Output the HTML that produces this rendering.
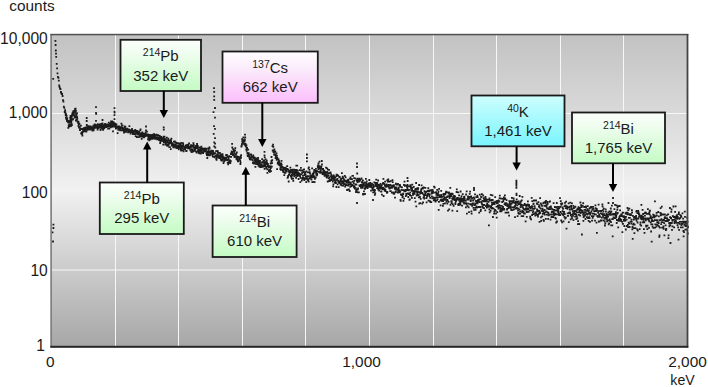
<!DOCTYPE html>
<html><head><meta charset="utf-8"><style>
html,body{margin:0;padding:0;background:#fff;}
body{width:708px;height:387px;overflow:hidden;position:relative;}
svg{position:absolute;left:0;top:0;display:block;}
text{font-family:"Liberation Sans", sans-serif;}
</style></head><body>
<svg width="708" height="387" viewBox="0 0 708 387">
<defs>
<linearGradient id="bg" x1="0" y1="0" x2="0" y2="1">
<stop offset="0" stop-color="#c2c2c2"/><stop offset="0.5" stop-color="#f1f1f1"/><stop offset="1" stop-color="#a7a7a7"/>
</linearGradient>
<linearGradient id="gg" x1="0" y1="0" x2="0" y2="1"><stop offset="0" stop-color="#fbfffb"/><stop offset="0.25" stop-color="#f0fdf0"/><stop offset="1" stop-color="#c4fbc4"/></linearGradient>
<linearGradient id="gp" x1="0" y1="0" x2="0" y2="1"><stop offset="0" stop-color="#fefcfe"/><stop offset="0.3" stop-color="#fbeefb"/><stop offset="1" stop-color="#fcbefb"/></linearGradient>
<linearGradient id="gc" x1="0" y1="0" x2="0" y2="1"><stop offset="0" stop-color="#cefefe"/><stop offset="1" stop-color="#78f4fd"/></linearGradient>
</defs>
<rect x="51" y="35" width="636" height="311" fill="url(#bg)"/>
<rect x="115" y="35" width="1" height="311" fill="#f7f7f7"/><rect x="178" y="35" width="1" height="311" fill="#f7f7f7"/><rect x="242" y="35" width="1" height="311" fill="#f7f7f7"/><rect x="305" y="35" width="1" height="311" fill="#f7f7f7"/><rect x="369" y="35" width="1" height="311" fill="#f7f7f7"/><rect x="433" y="35" width="1" height="311" fill="#f7f7f7"/><rect x="496" y="35" width="1" height="311" fill="#f7f7f7"/><rect x="560" y="35" width="1" height="311" fill="#f7f7f7"/><rect x="623" y="35" width="1" height="311" fill="#f7f7f7"/><rect x="51" y="113" width="636" height="1" fill="#f7f7f7"/><rect x="51" y="191" width="636" height="1" fill="#f7f7f7" opacity="0.3"/><rect x="51" y="269.5" width="636" height="1" fill="#f7f7f7"/>
<path d="M54.5 40h1.8v1.8h-1.8zM54.7 44.1h1.8v1.8h-1.8zM54.9 49.6h1.8v1.8h-1.8zM55.1 52.7h1.8v1.8h-1.8zM55.3 55.9h1.8v1.8h-1.8zM55.8 63h1.8v1.8h-1.8zM56.2 67.5h1.8v1.8h-1.8zM56.6 72.5h1.8v1.8h-1.8zM57 76h1.8v1.8h-1.8zM57.5 76.9h1.8v1.8h-1.8zM57.9 79.7h1.8v1.8h-1.8zM58.3 84.6h1.8v1.8h-1.8zM58.7 86.3h1.8v1.8h-1.8zM59.1 87.8h1.8v1.8h-1.8zM59.6 88.2h1.8v1.8h-1.8zM60 91.1h1.8v1.8h-1.8zM60.4 92.2h1.8v1.8h-1.8zM60.8 92.9h1.8v1.8h-1.8zM61.2 93.1h1.8v1.8h-1.8zM61.7 95.1h1.8v1.8h-1.8zM62.1 99.3h1.8v1.8h-1.8zM62.5 100.6h1.8v1.8h-1.8zM62.9 105.7h1.8v1.8h-1.8zM63.4 106.9h1.8v1.8h-1.8zM63.8 111.1h1.8v1.8h-1.8zM64.2 109.3h1.8v1.8h-1.8zM64.4 111.2h1.8v1.8h-1.8zM64.6 112.4h1.8v1.8h-1.8zM64.8 114.3h1.8v1.8h-1.8zM65 116.8h1.8v1.8h-1.8zM65.3 113.5h1.8v1.8h-1.8zM65.5 118.3h1.8v1.8h-1.8zM65.7 115h1.8v1.8h-1.8zM65.9 118.5h1.8v1.8h-1.8zM66.1 119.2h1.8v1.8h-1.8zM66.3 117.3h1.8v1.8h-1.8zM66.5 120.1h1.8v1.8h-1.8zM66.7 119.8h1.8v1.8h-1.8zM66.9 120.7h1.8v1.8h-1.8zM67.2 120.9h1.8v1.8h-1.8zM67.4 126.9h1.8v1.8h-1.8zM67.6 121.7h1.8v1.8h-1.8zM67.8 124.5h1.8v1.8h-1.8zM68 121.5h1.8v1.8h-1.8zM68.2 120.6h1.8v1.8h-1.8zM68.4 121.1h1.8v1.8h-1.8zM68.6 120h1.8v1.8h-1.8zM68.8 120.9h1.8v1.8h-1.8zM69.1 119.4h1.8v1.8h-1.8zM69.3 116.8h1.8v1.8h-1.8zM69.5 117.3h1.8v1.8h-1.8zM69.7 115h1.8v1.8h-1.8zM69.9 115.4h1.8v1.8h-1.8zM70.1 118.1h1.8v1.8h-1.8zM70.3 118.4h1.8v1.8h-1.8zM70.5 116.7h1.8v1.8h-1.8zM70.7 116.4h1.8v1.8h-1.8zM71 114.4h1.8v1.8h-1.8zM71.2 114.8h1.8v1.8h-1.8zM71.4 112.9h1.8v1.8h-1.8zM71.6 112.3h1.8v1.8h-1.8zM71.8 113.1h1.8v1.8h-1.8zM72 114.4h1.8v1.8h-1.8zM72.2 111.3h1.8v1.8h-1.8zM72.4 111.6h1.8v1.8h-1.8zM72.6 113h1.8v1.8h-1.8zM72.9 112.7h1.8v1.8h-1.8zM73.1 110.6h1.8v1.8h-1.8zM73.3 111.3h1.8v1.8h-1.8zM73.5 110.5h1.8v1.8h-1.8zM73.7 110.1h1.8v1.8h-1.8zM73.9 110.5h1.8v1.8h-1.8zM74.1 108.2h1.8v1.8h-1.8zM74.3 108.9h1.8v1.8h-1.8zM74.5 108h1.8v1.8h-1.8zM74.7 107.8h1.8v1.8h-1.8zM75 109.9h1.8v1.8h-1.8zM75.2 112.6h1.8v1.8h-1.8zM75.4 114.1h1.8v1.8h-1.8zM75.6 114h1.8v1.8h-1.8zM75.8 116h1.8v1.8h-1.8zM76 118.4h1.8v1.8h-1.8zM76.2 116.2h1.8v1.8h-1.8zM76.4 117.8h1.8v1.8h-1.8zM76.6 120.6h1.8v1.8h-1.8zM76.9 120.6h1.8v1.8h-1.8zM77.1 120.9h1.8v1.8h-1.8zM77.3 122.2h1.8v1.8h-1.8zM77.5 124.9h1.8v1.8h-1.8zM77.7 121.3h1.8v1.8h-1.8zM77.9 123.4h1.8v1.8h-1.8zM78.1 126.6h1.8v1.8h-1.8zM78.3 123.5h1.8v1.8h-1.8zM78.5 123h1.8v1.8h-1.8zM78.8 125.9h1.8v1.8h-1.8zM79 129.2h1.8v1.8h-1.8zM79.2 128.6h1.8v1.8h-1.8zM79.4 128.3h1.8v1.8h-1.8zM79.6 127.7h1.8v1.8h-1.8zM79.8 127.9h1.8v1.8h-1.8zM80 124.8h1.8v1.8h-1.8zM80.2 132.5h1.8v1.8h-1.8zM80.4 128.3h1.8v1.8h-1.8zM80.7 132.6h1.8v1.8h-1.8zM80.9 131.4h1.8v1.8h-1.8zM81.1 133.1h1.8v1.8h-1.8zM81.3 132.6h1.8v1.8h-1.8zM81.5 134.7h1.8v1.8h-1.8zM81.7 131.1h1.8v1.8h-1.8zM81.9 127.9h1.8v1.8h-1.8zM82.1 130.7h1.8v1.8h-1.8zM82.3 129.4h1.8v1.8h-1.8zM82.6 129h1.8v1.8h-1.8zM82.8 127.2h1.8v1.8h-1.8zM83 130.3h1.8v1.8h-1.8zM83.2 129.5h1.8v1.8h-1.8zM83.4 129.5h1.8v1.8h-1.8zM83.6 130.5h1.8v1.8h-1.8zM83.8 127.3h1.8v1.8h-1.8zM84 127.7h1.8v1.8h-1.8zM84.2 126.7h1.8v1.8h-1.8zM84.5 129.5h1.8v1.8h-1.8zM84.7 130.4h1.8v1.8h-1.8zM84.9 128.2h1.8v1.8h-1.8zM85.1 127.5h1.8v1.8h-1.8zM85.3 127.4h1.8v1.8h-1.8zM85.5 130.6h1.8v1.8h-1.8zM85.7 126.3h1.8v1.8h-1.8zM85.9 124.1h1.8v1.8h-1.8zM86.1 127.4h1.8v1.8h-1.8zM86.4 127.3h1.8v1.8h-1.8zM86.6 129h1.8v1.8h-1.8zM86.8 127h1.8v1.8h-1.8zM87 128.5h1.8v1.8h-1.8zM87.2 125.5h1.8v1.8h-1.8zM87.4 126.8h1.8v1.8h-1.8zM87.6 125.5h1.8v1.8h-1.8zM87.8 125.3h1.8v1.8h-1.8zM88 128.4h1.8v1.8h-1.8zM88.2 127.2h1.8v1.8h-1.8zM88.5 125.7h1.8v1.8h-1.8zM88.7 127.7h1.8v1.8h-1.8zM88.9 128.6h1.8v1.8h-1.8zM89.1 125.7h1.8v1.8h-1.8zM89.3 125.8h1.8v1.8h-1.8zM89.5 127.4h1.8v1.8h-1.8zM89.7 125.5h1.8v1.8h-1.8zM89.9 126.8h1.8v1.8h-1.8zM90.1 127.1h1.8v1.8h-1.8zM90.4 126.3h1.8v1.8h-1.8zM90.6 126.8h1.8v1.8h-1.8zM90.8 128.6h1.8v1.8h-1.8zM91 128.5h1.8v1.8h-1.8zM91.2 126.2h1.8v1.8h-1.8zM91.4 126.9h1.8v1.8h-1.8zM91.6 129.6h1.8v1.8h-1.8zM91.8 128.4h1.8v1.8h-1.8zM92 128.8h1.8v1.8h-1.8zM92.3 127.8h1.8v1.8h-1.8zM92.5 124.8h1.8v1.8h-1.8zM92.7 129.4h1.8v1.8h-1.8zM92.9 128h1.8v1.8h-1.8zM93.1 125.9h1.8v1.8h-1.8zM93.3 124.5h1.8v1.8h-1.8zM93.5 124.4h1.8v1.8h-1.8zM93.7 124.5h1.8v1.8h-1.8zM93.9 123.4h1.8v1.8h-1.8zM94.2 126.6h1.8v1.8h-1.8zM94.4 127h1.8v1.8h-1.8zM94.6 125.8h1.8v1.8h-1.8zM94.8 124.1h1.8v1.8h-1.8zM95 126.5h1.8v1.8h-1.8zM95.2 125.1h1.8v1.8h-1.8zM95.4 126.6h1.8v1.8h-1.8zM95.6 125.2h1.8v1.8h-1.8zM95.8 126.6h1.8v1.8h-1.8zM96.1 124.8h1.8v1.8h-1.8zM96.3 124.5h1.8v1.8h-1.8zM96.5 126.8h1.8v1.8h-1.8zM96.7 128.6h1.8v1.8h-1.8zM96.9 123.3h1.8v1.8h-1.8zM97.1 127.1h1.8v1.8h-1.8zM97.3 127.1h1.8v1.8h-1.8zM97.5 125.8h1.8v1.8h-1.8zM97.7 127.3h1.8v1.8h-1.8zM98 126h1.8v1.8h-1.8zM98.2 123.9h1.8v1.8h-1.8zM98.4 126.4h1.8v1.8h-1.8zM98.6 125.5h1.8v1.8h-1.8zM98.8 124.6h1.8v1.8h-1.8zM99 126h1.8v1.8h-1.8zM99.2 123.2h1.8v1.8h-1.8zM99.4 125h1.8v1.8h-1.8zM99.6 129.1h1.8v1.8h-1.8zM99.9 125.3h1.8v1.8h-1.8zM100.1 124.5h1.8v1.8h-1.8zM100.3 126.8h1.8v1.8h-1.8zM100.5 127.8h1.8v1.8h-1.8zM100.7 123.9h1.8v1.8h-1.8zM100.9 123.1h1.8v1.8h-1.8zM101.1 125.1h1.8v1.8h-1.8zM101.3 125.2h1.8v1.8h-1.8zM101.5 127.4h1.8v1.8h-1.8zM101.7 126h1.8v1.8h-1.8zM102 125.6h1.8v1.8h-1.8zM102.2 128.9h1.8v1.8h-1.8zM102.4 124.2h1.8v1.8h-1.8zM102.6 126h1.8v1.8h-1.8zM102.8 124.4h1.8v1.8h-1.8zM103 125.9h1.8v1.8h-1.8zM103.2 127.5h1.8v1.8h-1.8zM103.4 124.2h1.8v1.8h-1.8zM103.6 126.6h1.8v1.8h-1.8zM103.9 125.8h1.8v1.8h-1.8zM104.1 122.9h1.8v1.8h-1.8zM104.3 125.9h1.8v1.8h-1.8zM104.5 125.7h1.8v1.8h-1.8zM104.7 123.9h1.8v1.8h-1.8zM104.9 126h1.8v1.8h-1.8zM105.1 124.2h1.8v1.8h-1.8zM105.3 126.2h1.8v1.8h-1.8zM105.5 123.4h1.8v1.8h-1.8zM105.8 124.6h1.8v1.8h-1.8zM106 125.8h1.8v1.8h-1.8zM106.2 125.2h1.8v1.8h-1.8zM106.4 123.5h1.8v1.8h-1.8zM106.6 125.8h1.8v1.8h-1.8zM106.8 124.4h1.8v1.8h-1.8zM107 124.1h1.8v1.8h-1.8zM107.2 127.8h1.8v1.8h-1.8zM107.4 125.2h1.8v1.8h-1.8zM107.7 124.1h1.8v1.8h-1.8zM107.9 121.8h1.8v1.8h-1.8zM108.1 124.7h1.8v1.8h-1.8zM108.3 127.6h1.8v1.8h-1.8zM108.5 123.9h1.8v1.8h-1.8zM108.7 125.1h1.8v1.8h-1.8zM108.9 122.9h1.8v1.8h-1.8zM109.1 125.2h1.8v1.8h-1.8zM109.3 123.8h1.8v1.8h-1.8zM109.6 126.4h1.8v1.8h-1.8zM109.8 125.8h1.8v1.8h-1.8zM110 122.8h1.8v1.8h-1.8zM110.2 120.9h1.8v1.8h-1.8zM110.4 123.7h1.8v1.8h-1.8zM110.6 124.8h1.8v1.8h-1.8zM110.8 124.8h1.8v1.8h-1.8zM111 126h1.8v1.8h-1.8zM111.2 120.6h1.8v1.8h-1.8zM111.5 124.8h1.8v1.8h-1.8zM111.7 123.3h1.8v1.8h-1.8zM111.9 122.5h1.8v1.8h-1.8zM112.1 125.5h1.8v1.8h-1.8zM112.3 123.3h1.8v1.8h-1.8zM112.5 121.3h1.8v1.8h-1.8zM112.7 124.3h1.8v1.8h-1.8zM112.9 124.7h1.8v1.8h-1.8zM113.1 125.8h1.8v1.8h-1.8zM113.4 124.5h1.8v1.8h-1.8zM113.6 122.3h1.8v1.8h-1.8zM113.8 125.5h1.8v1.8h-1.8zM114 123.8h1.8v1.8h-1.8zM114.2 124.2h1.8v1.8h-1.8zM114.4 122.9h1.8v1.8h-1.8zM114.6 125h1.8v1.8h-1.8zM114.8 125.9h1.8v1.8h-1.8zM115 127.6h1.8v1.8h-1.8zM115.2 125.9h1.8v1.8h-1.8zM115.5 123.4h1.8v1.8h-1.8zM115.7 126.1h1.8v1.8h-1.8zM115.9 127h1.8v1.8h-1.8zM116.1 125.4h1.8v1.8h-1.8zM116.3 126h1.8v1.8h-1.8zM116.5 126.4h1.8v1.8h-1.8zM116.7 132.2h1.8v1.8h-1.8zM116.9 125.6h1.8v1.8h-1.8zM117.1 125.9h1.8v1.8h-1.8zM117.4 129h1.8v1.8h-1.8zM117.6 127.3h1.8v1.8h-1.8zM117.8 127.3h1.8v1.8h-1.8zM118 126.4h1.8v1.8h-1.8zM118.2 127.9h1.8v1.8h-1.8zM118.4 125.5h1.8v1.8h-1.8zM118.6 126.3h1.8v1.8h-1.8zM118.8 127.2h1.8v1.8h-1.8zM119 128.4h1.8v1.8h-1.8zM119.3 129.4h1.8v1.8h-1.8zM119.5 126.7h1.8v1.8h-1.8zM119.7 126.6h1.8v1.8h-1.8zM119.9 126.5h1.8v1.8h-1.8zM120.1 126.6h1.8v1.8h-1.8zM120.3 126.2h1.8v1.8h-1.8zM120.5 122.7h1.8v1.8h-1.8zM120.7 127.4h1.8v1.8h-1.8zM120.9 129.4h1.8v1.8h-1.8zM121.2 124.5h1.8v1.8h-1.8zM121.4 126.9h1.8v1.8h-1.8zM121.6 124.7h1.8v1.8h-1.8zM121.8 128.4h1.8v1.8h-1.8zM122 128h1.8v1.8h-1.8zM122.2 127.9h1.8v1.8h-1.8zM122.4 127.4h1.8v1.8h-1.8zM122.6 129.3h1.8v1.8h-1.8zM122.8 129.7h1.8v1.8h-1.8zM123.1 131.8h1.8v1.8h-1.8zM123.3 131.1h1.8v1.8h-1.8zM123.5 129.3h1.8v1.8h-1.8zM123.7 126.5h1.8v1.8h-1.8zM123.9 125.4h1.8v1.8h-1.8zM124.1 126h1.8v1.8h-1.8zM124.3 128.1h1.8v1.8h-1.8zM124.5 126h1.8v1.8h-1.8zM124.7 130.6h1.8v1.8h-1.8zM125 128.2h1.8v1.8h-1.8zM125.2 131h1.8v1.8h-1.8zM125.4 129.1h1.8v1.8h-1.8zM125.6 129h1.8v1.8h-1.8zM125.8 128.5h1.8v1.8h-1.8zM126 128.2h1.8v1.8h-1.8zM126.2 128.8h1.8v1.8h-1.8zM126.4 127.8h1.8v1.8h-1.8zM126.6 128.8h1.8v1.8h-1.8zM126.9 128.9h1.8v1.8h-1.8zM127.1 131.4h1.8v1.8h-1.8zM127.3 130h1.8v1.8h-1.8zM127.5 129h1.8v1.8h-1.8zM127.7 128.5h1.8v1.8h-1.8zM127.9 128.5h1.8v1.8h-1.8zM128.1 129.8h1.8v1.8h-1.8zM128.3 130.2h1.8v1.8h-1.8zM128.5 125.3h1.8v1.8h-1.8zM128.7 130.9h1.8v1.8h-1.8zM129 129.9h1.8v1.8h-1.8zM129.2 130.8h1.8v1.8h-1.8zM129.4 129.3h1.8v1.8h-1.8zM129.6 132.8h1.8v1.8h-1.8zM129.8 131.3h1.8v1.8h-1.8zM130 131.5h1.8v1.8h-1.8zM130.2 130.1h1.8v1.8h-1.8zM130.4 130h1.8v1.8h-1.8zM130.6 131.3h1.8v1.8h-1.8zM130.9 129.8h1.8v1.8h-1.8zM131.1 128h1.8v1.8h-1.8zM131.3 129.7h1.8v1.8h-1.8zM131.5 129.7h1.8v1.8h-1.8zM131.7 129.9h1.8v1.8h-1.8zM131.9 133.1h1.8v1.8h-1.8zM132.1 131.6h1.8v1.8h-1.8zM132.3 131.6h1.8v1.8h-1.8zM132.5 132.2h1.8v1.8h-1.8zM132.8 131.5h1.8v1.8h-1.8zM133 130.6h1.8v1.8h-1.8zM133.2 133h1.8v1.8h-1.8zM133.4 130.9h1.8v1.8h-1.8zM133.6 130h1.8v1.8h-1.8zM133.8 129.7h1.8v1.8h-1.8zM134 133.1h1.8v1.8h-1.8zM134.2 132.9h1.8v1.8h-1.8zM134.4 129h1.8v1.8h-1.8zM134.7 135.2h1.8v1.8h-1.8zM134.9 130.8h1.8v1.8h-1.8zM135.1 132.9h1.8v1.8h-1.8zM135.3 132.3h1.8v1.8h-1.8zM135.5 130h1.8v1.8h-1.8zM135.7 132.5h1.8v1.8h-1.8zM135.9 136.1h1.8v1.8h-1.8zM136.1 132.4h1.8v1.8h-1.8zM136.3 131.1h1.8v1.8h-1.8zM136.6 130.1h1.8v1.8h-1.8zM136.8 132h1.8v1.8h-1.8zM137 133.4h1.8v1.8h-1.8zM137.2 133.6h1.8v1.8h-1.8zM137.4 131.8h1.8v1.8h-1.8zM137.6 132.6h1.8v1.8h-1.8zM137.8 136.2h1.8v1.8h-1.8zM138 132.4h1.8v1.8h-1.8zM138.2 130.9h1.8v1.8h-1.8zM138.5 132.7h1.8v1.8h-1.8zM138.7 135.8h1.8v1.8h-1.8zM138.9 135.5h1.8v1.8h-1.8zM139.1 134.5h1.8v1.8h-1.8zM139.3 129.4h1.8v1.8h-1.8zM139.5 132.6h1.8v1.8h-1.8zM139.7 128.4h1.8v1.8h-1.8zM139.9 135.8h1.8v1.8h-1.8zM140.1 133.5h1.8v1.8h-1.8zM140.4 135.2h1.8v1.8h-1.8zM140.6 132.3h1.8v1.8h-1.8zM140.8 138h1.8v1.8h-1.8zM141 134.2h1.8v1.8h-1.8zM141.2 133.9h1.8v1.8h-1.8zM141.4 131.4h1.8v1.8h-1.8zM141.6 135.7h1.8v1.8h-1.8zM141.8 133.1h1.8v1.8h-1.8zM142 134.5h1.8v1.8h-1.8zM142.2 132.6h1.8v1.8h-1.8zM142.5 136.2h1.8v1.8h-1.8zM142.7 133.1h1.8v1.8h-1.8zM142.9 133.7h1.8v1.8h-1.8zM143.1 136.4h1.8v1.8h-1.8zM143.3 132.9h1.8v1.8h-1.8zM143.5 135.8h1.8v1.8h-1.8zM143.7 134.9h1.8v1.8h-1.8zM143.9 134.2h1.8v1.8h-1.8zM144.1 135.1h1.8v1.8h-1.8zM144.4 134.9h1.8v1.8h-1.8zM144.6 131.8h1.8v1.8h-1.8zM144.8 134.1h1.8v1.8h-1.8zM145 135h1.8v1.8h-1.8zM145.2 133.3h1.8v1.8h-1.8zM145.4 134.4h1.8v1.8h-1.8zM145.6 134.9h1.8v1.8h-1.8zM145.8 134.9h1.8v1.8h-1.8zM146 130.7h1.8v1.8h-1.8zM146.3 133.8h1.8v1.8h-1.8zM146.5 134.6h1.8v1.8h-1.8zM146.7 133.5h1.8v1.8h-1.8zM146.9 134.5h1.8v1.8h-1.8zM147.1 138.4h1.8v1.8h-1.8zM147.3 133.7h1.8v1.8h-1.8zM147.5 136.4h1.8v1.8h-1.8zM147.7 137.6h1.8v1.8h-1.8zM147.9 135.4h1.8v1.8h-1.8zM148.2 136.6h1.8v1.8h-1.8zM148.4 139.5h1.8v1.8h-1.8zM148.6 137.1h1.8v1.8h-1.8zM148.8 138.4h1.8v1.8h-1.8zM149 134h1.8v1.8h-1.8zM149.2 137.1h1.8v1.8h-1.8zM149.4 135.9h1.8v1.8h-1.8zM149.6 138.5h1.8v1.8h-1.8zM149.8 134.3h1.8v1.8h-1.8zM150.1 136.6h1.8v1.8h-1.8zM150.3 134.7h1.8v1.8h-1.8zM150.5 135.9h1.8v1.8h-1.8zM150.7 137.8h1.8v1.8h-1.8zM150.9 137.6h1.8v1.8h-1.8zM151.1 137.2h1.8v1.8h-1.8zM151.3 135.5h1.8v1.8h-1.8zM151.5 134h1.8v1.8h-1.8zM151.7 137.9h1.8v1.8h-1.8zM152 137.3h1.8v1.8h-1.8zM152.2 135.4h1.8v1.8h-1.8zM152.4 133.7h1.8v1.8h-1.8zM152.6 137.5h1.8v1.8h-1.8zM152.8 134h1.8v1.8h-1.8zM153 133.2h1.8v1.8h-1.8zM153.2 137.2h1.8v1.8h-1.8zM153.4 133.2h1.8v1.8h-1.8zM153.6 136.5h1.8v1.8h-1.8zM153.9 136.3h1.8v1.8h-1.8zM154.1 135.1h1.8v1.8h-1.8zM154.3 137.9h1.8v1.8h-1.8zM154.5 134.3h1.8v1.8h-1.8zM154.7 136.7h1.8v1.8h-1.8zM154.9 137.3h1.8v1.8h-1.8zM155.1 136.4h1.8v1.8h-1.8zM155.3 137.1h1.8v1.8h-1.8zM155.5 137h1.8v1.8h-1.8zM155.7 133.7h1.8v1.8h-1.8zM156 137h1.8v1.8h-1.8zM156.2 138.5h1.8v1.8h-1.8zM156.4 134.9h1.8v1.8h-1.8zM156.6 137.8h1.8v1.8h-1.8zM156.8 137.1h1.8v1.8h-1.8zM157 138.3h1.8v1.8h-1.8zM157.2 137.7h1.8v1.8h-1.8zM157.4 134.3h1.8v1.8h-1.8zM157.6 136.6h1.8v1.8h-1.8zM157.9 137h1.8v1.8h-1.8zM158.1 139.2h1.8v1.8h-1.8zM158.3 137.1h1.8v1.8h-1.8zM158.5 136.8h1.8v1.8h-1.8zM158.7 136.2h1.8v1.8h-1.8zM158.9 135.1h1.8v1.8h-1.8zM159.1 137.9h1.8v1.8h-1.8zM159.3 142.3h1.8v1.8h-1.8zM159.5 140.7h1.8v1.8h-1.8zM159.8 139.3h1.8v1.8h-1.8zM160 137.4h1.8v1.8h-1.8zM160.2 136h1.8v1.8h-1.8zM160.4 139h1.8v1.8h-1.8zM160.6 136.6h1.8v1.8h-1.8zM160.8 139.9h1.8v1.8h-1.8zM161 137.7h1.8v1.8h-1.8zM161.2 139.2h1.8v1.8h-1.8zM161.4 138.7h1.8v1.8h-1.8zM161.7 139.6h1.8v1.8h-1.8zM161.9 137.3h1.8v1.8h-1.8zM162.1 137.3h1.8v1.8h-1.8zM162.3 143.7h1.8v1.8h-1.8zM162.5 140.2h1.8v1.8h-1.8zM162.7 138.8h1.8v1.8h-1.8zM162.9 141.2h1.8v1.8h-1.8zM163.1 139.7h1.8v1.8h-1.8zM163.3 141.5h1.8v1.8h-1.8zM163.6 135.7h1.8v1.8h-1.8zM163.8 137.8h1.8v1.8h-1.8zM164 140.8h1.8v1.8h-1.8zM164.2 140.1h1.8v1.8h-1.8zM164.4 143.7h1.8v1.8h-1.8zM164.6 138.4h1.8v1.8h-1.8zM164.8 142h1.8v1.8h-1.8zM165 138.7h1.8v1.8h-1.8zM165.2 139.8h1.8v1.8h-1.8zM165.5 140.3h1.8v1.8h-1.8zM165.7 140.9h1.8v1.8h-1.8zM165.9 136.7h1.8v1.8h-1.8zM166.1 144.6h1.8v1.8h-1.8zM166.3 143.3h1.8v1.8h-1.8zM166.5 140h1.8v1.8h-1.8zM166.7 141.2h1.8v1.8h-1.8zM166.9 144.9h1.8v1.8h-1.8zM167.1 139.2h1.8v1.8h-1.8zM167.4 137.8h1.8v1.8h-1.8zM167.6 144.1h1.8v1.8h-1.8zM167.8 143.4h1.8v1.8h-1.8zM168 142h1.8v1.8h-1.8zM168.2 139.5h1.8v1.8h-1.8zM168.4 146.2h1.8v1.8h-1.8zM168.6 142.4h1.8v1.8h-1.8zM168.8 140.2h1.8v1.8h-1.8zM169 146.2h1.8v1.8h-1.8zM169.2 142.5h1.8v1.8h-1.8zM169.5 140.9h1.8v1.8h-1.8zM169.7 142.4h1.8v1.8h-1.8zM169.9 148.3h1.8v1.8h-1.8zM170.1 139.1h1.8v1.8h-1.8zM170.3 140.9h1.8v1.8h-1.8zM170.5 137.8h1.8v1.8h-1.8zM170.7 142.2h1.8v1.8h-1.8zM170.9 144.6h1.8v1.8h-1.8zM171.1 142.6h1.8v1.8h-1.8zM171.4 142.2h1.8v1.8h-1.8zM171.6 144.5h1.8v1.8h-1.8zM171.8 143.3h1.8v1.8h-1.8zM172 143.7h1.8v1.8h-1.8zM172.2 143.9h1.8v1.8h-1.8zM172.4 146.4h1.8v1.8h-1.8zM172.6 143.2h1.8v1.8h-1.8zM172.8 145.4h1.8v1.8h-1.8zM173 140.7h1.8v1.8h-1.8zM173.3 145.3h1.8v1.8h-1.8zM173.5 144.6h1.8v1.8h-1.8zM173.7 145.6h1.8v1.8h-1.8zM173.9 140.4h1.8v1.8h-1.8zM174.1 143.9h1.8v1.8h-1.8zM174.3 141.6h1.8v1.8h-1.8zM174.5 146.6h1.8v1.8h-1.8zM174.7 144.4h1.8v1.8h-1.8zM174.9 144.3h1.8v1.8h-1.8zM175.2 141.7h1.8v1.8h-1.8zM175.4 142.7h1.8v1.8h-1.8zM175.6 146.5h1.8v1.8h-1.8zM175.8 145.2h1.8v1.8h-1.8zM176 146.9h1.8v1.8h-1.8zM176.2 147.2h1.8v1.8h-1.8zM176.4 145.5h1.8v1.8h-1.8zM176.6 142.2h1.8v1.8h-1.8zM176.8 146.2h1.8v1.8h-1.8zM177.1 144.4h1.8v1.8h-1.8zM177.3 145.3h1.8v1.8h-1.8zM177.5 146.3h1.8v1.8h-1.8zM177.7 142.3h1.8v1.8h-1.8zM177.9 148.5h1.8v1.8h-1.8zM178.1 146.6h1.8v1.8h-1.8zM178.3 145.1h1.8v1.8h-1.8zM178.5 143.5h1.8v1.8h-1.8zM178.7 143.7h1.8v1.8h-1.8zM179 142.8h1.8v1.8h-1.8zM179.2 145.1h1.8v1.8h-1.8zM179.4 146.6h1.8v1.8h-1.8zM179.6 144.9h1.8v1.8h-1.8zM179.8 143.8h1.8v1.8h-1.8zM180 148.6h1.8v1.8h-1.8zM180.2 149.6h1.8v1.8h-1.8zM180.4 141.9h1.8v1.8h-1.8zM180.6 145.9h1.8v1.8h-1.8zM180.9 144.7h1.8v1.8h-1.8zM181.1 145.5h1.8v1.8h-1.8zM181.3 147.5h1.8v1.8h-1.8zM181.5 145.8h1.8v1.8h-1.8zM181.7 149.5h1.8v1.8h-1.8zM181.9 145h1.8v1.8h-1.8zM182.1 142.3h1.8v1.8h-1.8zM182.3 143.6h1.8v1.8h-1.8zM182.5 145.6h1.8v1.8h-1.8zM182.7 150.4h1.8v1.8h-1.8zM183 148.5h1.8v1.8h-1.8zM183.2 145.8h1.8v1.8h-1.8zM183.4 147.1h1.8v1.8h-1.8zM183.6 147.3h1.8v1.8h-1.8zM183.8 146h1.8v1.8h-1.8zM184 148.5h1.8v1.8h-1.8zM184.2 148.1h1.8v1.8h-1.8zM184.4 146.4h1.8v1.8h-1.8zM184.6 147.1h1.8v1.8h-1.8zM184.9 144.4h1.8v1.8h-1.8zM185.1 145h1.8v1.8h-1.8zM185.3 150.3h1.8v1.8h-1.8zM185.5 146.4h1.8v1.8h-1.8zM185.7 149.9h1.8v1.8h-1.8zM185.9 146.4h1.8v1.8h-1.8zM186.1 145.1h1.8v1.8h-1.8zM186.3 144.1h1.8v1.8h-1.8zM186.5 146.1h1.8v1.8h-1.8zM186.8 147.5h1.8v1.8h-1.8zM187 147.1h1.8v1.8h-1.8zM187.2 145.5h1.8v1.8h-1.8zM187.4 144.4h1.8v1.8h-1.8zM187.6 143.5h1.8v1.8h-1.8zM187.8 146.8h1.8v1.8h-1.8zM188 146.4h1.8v1.8h-1.8zM188.2 142.5h1.8v1.8h-1.8zM188.4 146.2h1.8v1.8h-1.8zM188.7 147.7h1.8v1.8h-1.8zM188.9 147.8h1.8v1.8h-1.8zM189.1 147.3h1.8v1.8h-1.8zM189.3 145.8h1.8v1.8h-1.8zM189.5 149.3h1.8v1.8h-1.8zM189.7 149.6h1.8v1.8h-1.8zM189.9 146.1h1.8v1.8h-1.8zM190.1 144.3h1.8v1.8h-1.8zM190.3 144.4h1.8v1.8h-1.8zM190.6 150.7h1.8v1.8h-1.8zM190.8 151.1h1.8v1.8h-1.8zM191 148.3h1.8v1.8h-1.8zM191.2 145.8h1.8v1.8h-1.8zM191.4 144.5h1.8v1.8h-1.8zM191.6 149.4h1.8v1.8h-1.8zM191.8 149.1h1.8v1.8h-1.8zM192 150.8h1.8v1.8h-1.8zM192.2 145.3h1.8v1.8h-1.8zM192.5 142.3h1.8v1.8h-1.8zM192.7 146.3h1.8v1.8h-1.8zM192.9 144h1.8v1.8h-1.8zM193.1 146.7h1.8v1.8h-1.8zM193.3 147.2h1.8v1.8h-1.8zM193.5 150h1.8v1.8h-1.8zM193.7 147.1h1.8v1.8h-1.8zM193.9 148.6h1.8v1.8h-1.8zM194.1 149.4h1.8v1.8h-1.8zM194.4 147.1h1.8v1.8h-1.8zM194.6 145.5h1.8v1.8h-1.8zM194.8 147.7h1.8v1.8h-1.8zM195 145.1h1.8v1.8h-1.8zM195.2 150.8h1.8v1.8h-1.8zM195.4 145h1.8v1.8h-1.8zM195.6 145.6h1.8v1.8h-1.8zM195.8 151.7h1.8v1.8h-1.8zM196 146h1.8v1.8h-1.8zM196.2 143.1h1.8v1.8h-1.8zM196.5 147.1h1.8v1.8h-1.8zM196.7 150.5h1.8v1.8h-1.8zM196.9 144.9h1.8v1.8h-1.8zM197.1 150.3h1.8v1.8h-1.8zM197.3 148.7h1.8v1.8h-1.8zM197.5 149.9h1.8v1.8h-1.8zM197.7 146.8h1.8v1.8h-1.8zM197.9 152h1.8v1.8h-1.8zM198.1 150.2h1.8v1.8h-1.8zM198.4 148.9h1.8v1.8h-1.8zM198.6 152.5h1.8v1.8h-1.8zM198.8 152.2h1.8v1.8h-1.8zM199 146.8h1.8v1.8h-1.8zM199.2 146.6h1.8v1.8h-1.8zM199.4 147.5h1.8v1.8h-1.8zM199.6 149.4h1.8v1.8h-1.8zM199.8 150.5h1.8v1.8h-1.8zM200 152.6h1.8v1.8h-1.8zM200.3 147.9h1.8v1.8h-1.8zM200.5 145.8h1.8v1.8h-1.8zM200.7 149.4h1.8v1.8h-1.8zM200.9 148h1.8v1.8h-1.8zM201.1 151.5h1.8v1.8h-1.8zM201.3 149h1.8v1.8h-1.8zM201.5 147.4h1.8v1.8h-1.8zM201.7 148.5h1.8v1.8h-1.8zM201.9 151.3h1.8v1.8h-1.8zM202.2 152.2h1.8v1.8h-1.8zM202.4 148.9h1.8v1.8h-1.8zM202.6 147.7h1.8v1.8h-1.8zM202.8 148.7h1.8v1.8h-1.8zM203 147.9h1.8v1.8h-1.8zM203.2 150.2h1.8v1.8h-1.8zM203.4 150.7h1.8v1.8h-1.8zM203.6 148.5h1.8v1.8h-1.8zM203.8 147.9h1.8v1.8h-1.8zM204.1 150.3h1.8v1.8h-1.8zM204.3 148.6h1.8v1.8h-1.8zM204.5 147.5h1.8v1.8h-1.8zM204.7 148h1.8v1.8h-1.8zM204.9 149.7h1.8v1.8h-1.8zM205.1 149.5h1.8v1.8h-1.8zM205.3 148.1h1.8v1.8h-1.8zM205.5 152.5h1.8v1.8h-1.8zM205.7 151.7h1.8v1.8h-1.8zM206 154.1h1.8v1.8h-1.8zM206.2 151.5h1.8v1.8h-1.8zM206.4 157.1h1.8v1.8h-1.8zM206.6 151.1h1.8v1.8h-1.8zM206.8 153.1h1.8v1.8h-1.8zM207 154.5h1.8v1.8h-1.8zM207.2 147.5h1.8v1.8h-1.8zM207.4 149.5h1.8v1.8h-1.8zM207.6 152h1.8v1.8h-1.8zM207.9 150.1h1.8v1.8h-1.8zM208.1 153.5h1.8v1.8h-1.8zM208.3 147.6h1.8v1.8h-1.8zM208.5 146.4h1.8v1.8h-1.8zM208.7 147.6h1.8v1.8h-1.8zM208.9 154.4h1.8v1.8h-1.8zM209.1 153.7h1.8v1.8h-1.8zM209.3 151.1h1.8v1.8h-1.8zM209.5 153.7h1.8v1.8h-1.8zM209.7 152h1.8v1.8h-1.8zM210 150.4h1.8v1.8h-1.8zM210.2 150.2h1.8v1.8h-1.8zM210.4 150.6h1.8v1.8h-1.8zM210.6 152.7h1.8v1.8h-1.8zM210.8 149.8h1.8v1.8h-1.8zM211 152.7h1.8v1.8h-1.8zM211.2 149.9h1.8v1.8h-1.8zM211.4 152.3h1.8v1.8h-1.8zM211.6 154.4h1.8v1.8h-1.8zM211.9 155.8h1.8v1.8h-1.8zM212.1 150.1h1.8v1.8h-1.8zM212.3 153.1h1.8v1.8h-1.8zM212.5 151.4h1.8v1.8h-1.8zM212.7 152.4h1.8v1.8h-1.8zM212.9 153h1.8v1.8h-1.8zM213.1 152.5h1.8v1.8h-1.8zM213.3 145.5h1.8v1.8h-1.8zM213.5 155.9h1.8v1.8h-1.8zM213.8 156.5h1.8v1.8h-1.8zM214 152.3h1.8v1.8h-1.8zM214.2 152.2h1.8v1.8h-1.8zM214.4 155.3h1.8v1.8h-1.8zM214.6 154.7h1.8v1.8h-1.8zM214.8 154.9h1.8v1.8h-1.8zM215 154.6h1.8v1.8h-1.8zM215.2 150.3h1.8v1.8h-1.8zM215.4 158.1h1.8v1.8h-1.8zM215.7 158.9h1.8v1.8h-1.8zM215.9 156.9h1.8v1.8h-1.8zM216.1 155.2h1.8v1.8h-1.8zM216.3 153.2h1.8v1.8h-1.8zM216.5 155h1.8v1.8h-1.8zM216.7 150.1h1.8v1.8h-1.8zM216.9 151.1h1.8v1.8h-1.8zM217.1 155h1.8v1.8h-1.8zM217.3 155.9h1.8v1.8h-1.8zM217.6 155.1h1.8v1.8h-1.8zM217.8 152.2h1.8v1.8h-1.8zM218 154.3h1.8v1.8h-1.8zM218.2 157.1h1.8v1.8h-1.8zM218.4 156.6h1.8v1.8h-1.8zM218.6 156h1.8v1.8h-1.8zM218.8 156.6h1.8v1.8h-1.8zM219 152h1.8v1.8h-1.8zM219.2 157h1.8v1.8h-1.8zM219.5 155h1.8v1.8h-1.8zM219.7 154.5h1.8v1.8h-1.8zM219.9 158.2h1.8v1.8h-1.8zM220.1 153.6h1.8v1.8h-1.8zM220.3 159.4h1.8v1.8h-1.8zM220.5 155.4h1.8v1.8h-1.8zM220.7 156.3h1.8v1.8h-1.8zM220.9 159.7h1.8v1.8h-1.8zM221.1 158.3h1.8v1.8h-1.8zM221.4 159.8h1.8v1.8h-1.8zM221.6 153.2h1.8v1.8h-1.8zM221.8 154.8h1.8v1.8h-1.8zM222 157.8h1.8v1.8h-1.8zM222.2 156.6h1.8v1.8h-1.8zM222.4 156.2h1.8v1.8h-1.8zM222.6 162.2h1.8v1.8h-1.8zM222.8 156.4h1.8v1.8h-1.8zM223 158h1.8v1.8h-1.8zM223.2 160.4h1.8v1.8h-1.8zM223.5 158.6h1.8v1.8h-1.8zM223.7 158.1h1.8v1.8h-1.8zM223.9 159.8h1.8v1.8h-1.8zM224.1 157.1h1.8v1.8h-1.8zM224.3 157h1.8v1.8h-1.8zM224.5 158.1h1.8v1.8h-1.8zM224.7 158.9h1.8v1.8h-1.8zM224.9 156.9h1.8v1.8h-1.8zM225.1 154.3h1.8v1.8h-1.8zM225.4 156.6h1.8v1.8h-1.8zM225.6 159h1.8v1.8h-1.8zM225.8 158.7h1.8v1.8h-1.8zM226 154.1h1.8v1.8h-1.8zM226.2 159.3h1.8v1.8h-1.8zM226.4 159h1.8v1.8h-1.8zM226.6 155.8h1.8v1.8h-1.8zM226.8 161.7h1.8v1.8h-1.8zM227 158.8h1.8v1.8h-1.8zM227.3 163.4h1.8v1.8h-1.8zM227.5 156.2h1.8v1.8h-1.8zM227.7 158.1h1.8v1.8h-1.8zM227.9 161.3h1.8v1.8h-1.8zM228.1 161.7h1.8v1.8h-1.8zM228.3 155.2h1.8v1.8h-1.8zM228.5 159.7h1.8v1.8h-1.8zM228.7 155.8h1.8v1.8h-1.8zM228.9 160.2h1.8v1.8h-1.8zM229.2 159.5h1.8v1.8h-1.8zM229.4 162.3h1.8v1.8h-1.8zM229.6 160.7h1.8v1.8h-1.8zM229.8 160.1h1.8v1.8h-1.8zM230 153.2h1.8v1.8h-1.8zM230.2 156h1.8v1.8h-1.8zM230.4 152.3h1.8v1.8h-1.8zM230.6 152.2h1.8v1.8h-1.8zM230.8 150.5h1.8v1.8h-1.8zM231.1 151.5h1.8v1.8h-1.8zM231.3 153.2h1.8v1.8h-1.8zM231.5 152.4h1.8v1.8h-1.8zM231.7 151.6h1.8v1.8h-1.8zM231.9 153.8h1.8v1.8h-1.8zM232.1 154.1h1.8v1.8h-1.8zM232.3 148.3h1.8v1.8h-1.8zM232.5 153.4h1.8v1.8h-1.8zM232.7 150.7h1.8v1.8h-1.8zM233 149.3h1.8v1.8h-1.8zM233.2 150.4h1.8v1.8h-1.8zM233.4 155h1.8v1.8h-1.8zM233.6 156.1h1.8v1.8h-1.8zM233.8 152.4h1.8v1.8h-1.8zM234 149.7h1.8v1.8h-1.8zM234.2 149.4h1.8v1.8h-1.8zM234.4 147.3h1.8v1.8h-1.8zM234.6 153.7h1.8v1.8h-1.8zM234.9 153.4h1.8v1.8h-1.8zM235.1 153.5h1.8v1.8h-1.8zM235.3 155.7h1.8v1.8h-1.8zM235.5 158h1.8v1.8h-1.8zM235.7 156.9h1.8v1.8h-1.8zM235.9 151.6h1.8v1.8h-1.8zM236.1 155.4h1.8v1.8h-1.8zM236.3 158.5h1.8v1.8h-1.8zM236.5 157.9h1.8v1.8h-1.8zM236.7 159.2h1.8v1.8h-1.8zM237 160.5h1.8v1.8h-1.8zM237.2 160.1h1.8v1.8h-1.8zM237.4 156.2h1.8v1.8h-1.8zM237.6 158.3h1.8v1.8h-1.8zM237.8 155.9h1.8v1.8h-1.8zM238 158.3h1.8v1.8h-1.8zM238.2 158.7h1.8v1.8h-1.8zM238.4 158.3h1.8v1.8h-1.8zM238.6 158.6h1.8v1.8h-1.8zM238.9 158.6h1.8v1.8h-1.8zM239.1 156.7h1.8v1.8h-1.8zM239.3 159.9h1.8v1.8h-1.8zM239.5 163.1h1.8v1.8h-1.8zM239.7 161.7h1.8v1.8h-1.8zM239.9 155.2h1.8v1.8h-1.8zM240.1 157h1.8v1.8h-1.8zM240.3 154.2h1.8v1.8h-1.8zM240.5 145.6h1.8v1.8h-1.8zM240.8 145h1.8v1.8h-1.8zM241 143.3h1.8v1.8h-1.8zM241.2 138.2h1.8v1.8h-1.8zM241.4 140.6h1.8v1.8h-1.8zM241.6 139.6h1.8v1.8h-1.8zM241.8 141.8h1.8v1.8h-1.8zM242 142.7h1.8v1.8h-1.8zM242.2 141h1.8v1.8h-1.8zM242.4 136.4h1.8v1.8h-1.8zM242.7 141h1.8v1.8h-1.8zM242.9 140.7h1.8v1.8h-1.8zM243.1 139.8h1.8v1.8h-1.8zM243.3 138.7h1.8v1.8h-1.8zM243.5 143.5h1.8v1.8h-1.8zM243.7 140.8h1.8v1.8h-1.8zM243.9 143.1h1.8v1.8h-1.8zM244.1 142.9h1.8v1.8h-1.8zM244.3 144.4h1.8v1.8h-1.8zM244.6 143.5h1.8v1.8h-1.8zM244.8 143.3h1.8v1.8h-1.8zM245 145.7h1.8v1.8h-1.8zM245.2 144.4h1.8v1.8h-1.8zM245.4 148.6h1.8v1.8h-1.8zM245.6 144.4h1.8v1.8h-1.8zM245.8 149.9h1.8v1.8h-1.8zM246 147.3h1.8v1.8h-1.8zM246.2 146.9h1.8v1.8h-1.8zM246.5 152.1h1.8v1.8h-1.8zM246.7 154.2h1.8v1.8h-1.8zM246.9 155.1h1.8v1.8h-1.8zM247.1 154.2h1.8v1.8h-1.8zM247.3 148.8h1.8v1.8h-1.8zM247.5 154.6h1.8v1.8h-1.8zM247.7 154.3h1.8v1.8h-1.8zM247.9 152.3h1.8v1.8h-1.8zM248.1 153.9h1.8v1.8h-1.8zM248.4 155.9h1.8v1.8h-1.8zM248.6 157.2h1.8v1.8h-1.8zM248.8 153.9h1.8v1.8h-1.8zM249 158.2h1.8v1.8h-1.8zM249.2 157.8h1.8v1.8h-1.8zM249.4 156.4h1.8v1.8h-1.8zM249.6 158.8h1.8v1.8h-1.8zM249.8 158.1h1.8v1.8h-1.8zM250 153.7h1.8v1.8h-1.8zM250.2 153.6h1.8v1.8h-1.8zM250.5 158.7h1.8v1.8h-1.8zM250.7 155.6h1.8v1.8h-1.8zM250.9 156.5h1.8v1.8h-1.8zM251.1 158.7h1.8v1.8h-1.8zM251.3 156.1h1.8v1.8h-1.8zM251.5 156.5h1.8v1.8h-1.8zM251.7 156.3h1.8v1.8h-1.8zM251.9 159.7h1.8v1.8h-1.8zM252.1 162.1h1.8v1.8h-1.8zM252.4 154.6h1.8v1.8h-1.8zM252.6 157.1h1.8v1.8h-1.8zM252.8 162.5h1.8v1.8h-1.8zM253 157.8h1.8v1.8h-1.8zM253.2 161.2h1.8v1.8h-1.8zM253.4 162.6h1.8v1.8h-1.8zM253.6 156.4h1.8v1.8h-1.8zM253.8 157h1.8v1.8h-1.8zM254 159.3h1.8v1.8h-1.8zM254.3 159h1.8v1.8h-1.8zM254.5 166h1.8v1.8h-1.8zM254.7 160.9h1.8v1.8h-1.8zM254.9 161.4h1.8v1.8h-1.8zM255.1 157.6h1.8v1.8h-1.8zM255.3 163.2h1.8v1.8h-1.8zM255.5 161.3h1.8v1.8h-1.8zM255.7 160.4h1.8v1.8h-1.8zM255.9 159h1.8v1.8h-1.8zM256.2 159.5h1.8v1.8h-1.8zM256.4 161.1h1.8v1.8h-1.8zM256.6 163.2h1.8v1.8h-1.8zM256.8 157.7h1.8v1.8h-1.8zM257 162.6h1.8v1.8h-1.8zM257.2 156.9h1.8v1.8h-1.8zM257.4 159.2h1.8v1.8h-1.8zM257.6 165h1.8v1.8h-1.8zM257.8 162.5h1.8v1.8h-1.8zM258.1 160.9h1.8v1.8h-1.8zM258.3 161.2h1.8v1.8h-1.8zM258.5 163.1h1.8v1.8h-1.8zM258.7 166h1.8v1.8h-1.8zM258.9 163h1.8v1.8h-1.8zM259.1 159.9h1.8v1.8h-1.8zM259.3 163.8h1.8v1.8h-1.8zM259.5 165.3h1.8v1.8h-1.8zM259.7 165.5h1.8v1.8h-1.8zM260 166.3h1.8v1.8h-1.8zM260.2 161.6h1.8v1.8h-1.8zM260.4 165.1h1.8v1.8h-1.8zM260.6 163.7h1.8v1.8h-1.8zM260.8 161.8h1.8v1.8h-1.8zM261 164.2h1.8v1.8h-1.8zM261.2 158.2h1.8v1.8h-1.8zM261.4 166h1.8v1.8h-1.8zM261.6 161.6h1.8v1.8h-1.8zM261.9 161.2h1.8v1.8h-1.8zM262.1 165.4h1.8v1.8h-1.8zM262.3 164.7h1.8v1.8h-1.8zM262.5 159.5h1.8v1.8h-1.8zM262.7 161.5h1.8v1.8h-1.8zM262.9 165.7h1.8v1.8h-1.8zM263.1 164.7h1.8v1.8h-1.8zM263.3 163.1h1.8v1.8h-1.8zM263.5 159.4h1.8v1.8h-1.8zM263.7 167.9h1.8v1.8h-1.8zM264 163.4h1.8v1.8h-1.8zM264.2 161.2h1.8v1.8h-1.8zM264.4 162.4h1.8v1.8h-1.8zM264.6 165.1h1.8v1.8h-1.8zM264.8 158.4h1.8v1.8h-1.8zM265 163.1h1.8v1.8h-1.8zM265.2 165.9h1.8v1.8h-1.8zM265.4 166.9h1.8v1.8h-1.8zM265.6 161.6h1.8v1.8h-1.8zM265.9 159.7h1.8v1.8h-1.8zM266.1 161.9h1.8v1.8h-1.8zM266.3 168.5h1.8v1.8h-1.8zM266.5 171.9h1.8v1.8h-1.8zM266.7 163h1.8v1.8h-1.8zM266.9 165.1h1.8v1.8h-1.8zM267.1 163.3h1.8v1.8h-1.8zM267.3 165.2h1.8v1.8h-1.8zM267.5 165.6h1.8v1.8h-1.8zM267.8 166.8h1.8v1.8h-1.8zM268 170.3h1.8v1.8h-1.8zM268.2 169.8h1.8v1.8h-1.8zM268.4 169.1h1.8v1.8h-1.8zM268.6 165.2h1.8v1.8h-1.8zM268.8 165.4h1.8v1.8h-1.8zM269 171h1.8v1.8h-1.8zM269.2 169.1h1.8v1.8h-1.8zM269.4 166.3h1.8v1.8h-1.8zM269.7 162.6h1.8v1.8h-1.8zM269.9 167.3h1.8v1.8h-1.8zM270.1 170.2h1.8v1.8h-1.8zM270.3 165.6h1.8v1.8h-1.8zM270.5 160.1h1.8v1.8h-1.8zM270.7 160.8h1.8v1.8h-1.8zM270.9 165.7h1.8v1.8h-1.8zM271.1 162.2h1.8v1.8h-1.8zM271.3 159.2h1.8v1.8h-1.8zM271.6 145.2h1.8v1.8h-1.8zM271.8 149.6h1.8v1.8h-1.8zM272 149.7h1.8v1.8h-1.8zM272.2 143.8h1.8v1.8h-1.8zM272.4 146h1.8v1.8h-1.8zM272.6 151.1h1.8v1.8h-1.8zM272.8 149.4h1.8v1.8h-1.8zM273 151.4h1.8v1.8h-1.8zM273.2 153.8h1.8v1.8h-1.8zM273.5 148.4h1.8v1.8h-1.8zM273.7 153.5h1.8v1.8h-1.8zM273.9 153.8h1.8v1.8h-1.8zM274.1 150.5h1.8v1.8h-1.8zM274.3 154.3h1.8v1.8h-1.8zM274.5 150.9h1.8v1.8h-1.8zM274.7 157.1h1.8v1.8h-1.8zM274.9 156.5h1.8v1.8h-1.8zM275.1 155.6h1.8v1.8h-1.8zM275.4 154.4h1.8v1.8h-1.8zM275.6 152.4h1.8v1.8h-1.8zM275.8 159h1.8v1.8h-1.8zM276 154.9h1.8v1.8h-1.8zM276.2 168.3h1.8v1.8h-1.8zM276.4 157h1.8v1.8h-1.8zM276.6 158.5h1.8v1.8h-1.8zM276.8 162.6h1.8v1.8h-1.8zM277 161.6h1.8v1.8h-1.8zM277.2 162.5h1.8v1.8h-1.8zM277.5 158.3h1.8v1.8h-1.8zM277.7 161.3h1.8v1.8h-1.8zM277.9 163.7h1.8v1.8h-1.8zM278.1 159.7h1.8v1.8h-1.8zM278.3 163.5h1.8v1.8h-1.8zM278.5 161.5h1.8v1.8h-1.8zM278.7 164.5h1.8v1.8h-1.8zM278.9 163.2h1.8v1.8h-1.8zM279.1 162.7h1.8v1.8h-1.8zM279.4 168.3h1.8v1.8h-1.8zM279.6 166.6h1.8v1.8h-1.8zM279.8 163.3h1.8v1.8h-1.8zM280 169h1.8v1.8h-1.8zM280.2 164.8h1.8v1.8h-1.8zM280.4 162.4h1.8v1.8h-1.8zM280.6 159.9h1.8v1.8h-1.8zM280.8 164h1.8v1.8h-1.8zM281 167h1.8v1.8h-1.8zM281.3 166.1h1.8v1.8h-1.8zM281.5 169h1.8v1.8h-1.8zM281.7 166.2h1.8v1.8h-1.8zM281.9 167h1.8v1.8h-1.8zM282.1 170.2h1.8v1.8h-1.8zM282.3 166.8h1.8v1.8h-1.8zM282.5 171.3h1.8v1.8h-1.8zM282.7 168.5h1.8v1.8h-1.8zM282.9 168.4h1.8v1.8h-1.8zM283.2 167.3h1.8v1.8h-1.8zM283.4 174.3h1.8v1.8h-1.8zM283.6 168.3h1.8v1.8h-1.8zM283.8 172h1.8v1.8h-1.8zM284 168.3h1.8v1.8h-1.8zM284.2 166.9h1.8v1.8h-1.8zM284.4 170h1.8v1.8h-1.8zM284.6 171.9h1.8v1.8h-1.8zM284.8 166.8h1.8v1.8h-1.8zM285.1 169.9h1.8v1.8h-1.8zM285.3 168h1.8v1.8h-1.8zM285.5 170.5h1.8v1.8h-1.8zM285.7 168.6h1.8v1.8h-1.8zM285.9 168.6h1.8v1.8h-1.8zM286.1 168.6h1.8v1.8h-1.8zM286.3 165.3h1.8v1.8h-1.8zM286.5 168.1h1.8v1.8h-1.8zM286.7 177h1.8v1.8h-1.8zM287 176.4h1.8v1.8h-1.8zM287.2 175.1h1.8v1.8h-1.8zM287.4 168.7h1.8v1.8h-1.8zM287.6 170.7h1.8v1.8h-1.8zM287.8 180.6h1.8v1.8h-1.8zM288 173.9h1.8v1.8h-1.8zM288.2 173.9h1.8v1.8h-1.8zM288.4 169.7h1.8v1.8h-1.8zM288.6 172.6h1.8v1.8h-1.8zM288.9 171.1h1.8v1.8h-1.8zM289.1 171.6h1.8v1.8h-1.8zM289.3 170.4h1.8v1.8h-1.8zM289.5 166.7h1.8v1.8h-1.8zM289.7 170.3h1.8v1.8h-1.8zM289.9 175.1h1.8v1.8h-1.8zM290.1 169.1h1.8v1.8h-1.8zM290.3 171.5h1.8v1.8h-1.8zM290.5 176.6h1.8v1.8h-1.8zM290.7 173.9h1.8v1.8h-1.8zM291 178h1.8v1.8h-1.8zM291.2 169h1.8v1.8h-1.8zM291.4 174.7h1.8v1.8h-1.8zM291.6 172.1h1.8v1.8h-1.8zM291.8 170.2h1.8v1.8h-1.8zM292 168.7h1.8v1.8h-1.8zM292.2 177.7h1.8v1.8h-1.8zM292.4 180h1.8v1.8h-1.8zM292.6 173.1h1.8v1.8h-1.8zM292.9 171.6h1.8v1.8h-1.8zM293.1 168.7h1.8v1.8h-1.8zM293.3 173.6h1.8v1.8h-1.8zM293.5 175.4h1.8v1.8h-1.8zM293.7 170.8h1.8v1.8h-1.8zM293.9 171.3h1.8v1.8h-1.8zM294.1 172.5h1.8v1.8h-1.8zM294.3 169.1h1.8v1.8h-1.8zM294.5 174.6h1.8v1.8h-1.8zM294.8 172.5h1.8v1.8h-1.8zM295 174.6h1.8v1.8h-1.8zM295.2 177h1.8v1.8h-1.8zM295.4 172h1.8v1.8h-1.8zM295.6 170.3h1.8v1.8h-1.8zM295.8 169.1h1.8v1.8h-1.8zM296 172.5h1.8v1.8h-1.8zM296.2 174.3h1.8v1.8h-1.8zM296.4 175.3h1.8v1.8h-1.8zM296.7 172.5h1.8v1.8h-1.8zM296.9 169.8h1.8v1.8h-1.8zM297.1 171.7h1.8v1.8h-1.8zM297.3 173.7h1.8v1.8h-1.8zM297.5 174.8h1.8v1.8h-1.8zM297.7 178.1h1.8v1.8h-1.8zM297.9 172.2h1.8v1.8h-1.8zM298.1 174.2h1.8v1.8h-1.8zM298.3 174.7h1.8v1.8h-1.8zM298.6 172.9h1.8v1.8h-1.8zM298.8 173.9h1.8v1.8h-1.8zM299 169.2h1.8v1.8h-1.8zM299.2 175.5h1.8v1.8h-1.8zM299.4 181.3h1.8v1.8h-1.8zM299.6 173.4h1.8v1.8h-1.8zM299.8 176.9h1.8v1.8h-1.8zM300 167h1.8v1.8h-1.8zM300.2 169.7h1.8v1.8h-1.8zM300.5 169.5h1.8v1.8h-1.8zM300.7 173.4h1.8v1.8h-1.8zM300.9 179.8h1.8v1.8h-1.8zM301.1 169.7h1.8v1.8h-1.8zM301.3 171.9h1.8v1.8h-1.8zM301.5 177.7h1.8v1.8h-1.8zM301.7 178h1.8v1.8h-1.8zM301.9 176.9h1.8v1.8h-1.8zM302.1 174.9h1.8v1.8h-1.8zM302.4 171.1h1.8v1.8h-1.8zM302.6 169h1.8v1.8h-1.8zM302.8 177.1h1.8v1.8h-1.8zM303 177.4h1.8v1.8h-1.8zM303.2 168.5h1.8v1.8h-1.8zM303.4 179.1h1.8v1.8h-1.8zM303.6 174.1h1.8v1.8h-1.8zM303.8 173.1h1.8v1.8h-1.8zM304 177.7h1.8v1.8h-1.8zM304.2 171.3h1.8v1.8h-1.8zM304.5 177.9h1.8v1.8h-1.8zM304.7 173.6h1.8v1.8h-1.8zM304.9 175.7h1.8v1.8h-1.8zM305.1 177.9h1.8v1.8h-1.8zM305.3 181.2h1.8v1.8h-1.8zM305.5 170.6h1.8v1.8h-1.8zM305.7 177.4h1.8v1.8h-1.8zM305.9 176.5h1.8v1.8h-1.8zM306.1 177.4h1.8v1.8h-1.8zM306.4 177.4h1.8v1.8h-1.8zM306.6 175.2h1.8v1.8h-1.8zM306.8 179.4h1.8v1.8h-1.8zM307 171.5h1.8v1.8h-1.8zM307.2 178.8h1.8v1.8h-1.8zM307.4 175.2h1.8v1.8h-1.8zM307.6 167.5h1.8v1.8h-1.8zM307.8 180.6h1.8v1.8h-1.8zM308 166.4h1.8v1.8h-1.8zM308.3 177.6h1.8v1.8h-1.8zM308.5 168.9h1.8v1.8h-1.8zM308.7 171.3h1.8v1.8h-1.8zM308.9 171.8h1.8v1.8h-1.8zM309.1 172.5h1.8v1.8h-1.8zM309.3 175.7h1.8v1.8h-1.8zM309.5 174.6h1.8v1.8h-1.8zM309.7 177.6h1.8v1.8h-1.8zM309.9 174.6h1.8v1.8h-1.8zM310.2 174.9h1.8v1.8h-1.8zM310.4 176.5h1.8v1.8h-1.8zM310.6 178.8h1.8v1.8h-1.8zM310.8 175.7h1.8v1.8h-1.8zM311 174.6h1.8v1.8h-1.8zM311.2 167.5h1.8v1.8h-1.8zM311.4 181.2h1.8v1.8h-1.8zM311.6 174.6h1.8v1.8h-1.8zM311.8 172.8h1.8v1.8h-1.8zM312.1 176.5h1.8v1.8h-1.8zM312.3 176.2h1.8v1.8h-1.8zM312.5 173.6h1.8v1.8h-1.8zM312.7 180.9h1.8v1.8h-1.8zM312.9 171.3h1.8v1.8h-1.8zM313.1 171.8h1.8v1.8h-1.8zM313.3 169.1h1.8v1.8h-1.8zM313.5 175.4h1.8v1.8h-1.8zM313.7 181.2h1.8v1.8h-1.8zM314 177.9h1.8v1.8h-1.8zM314.2 176.5h1.8v1.8h-1.8zM314.4 170.1h1.8v1.8h-1.8zM314.6 170.6h1.8v1.8h-1.8zM314.8 176.6h1.8v1.8h-1.8zM315 168h1.8v1.8h-1.8zM315.2 171.6h1.8v1.8h-1.8zM315.4 173.6h1.8v1.8h-1.8zM315.6 173.7h1.8v1.8h-1.8zM315.9 170h1.8v1.8h-1.8zM316.1 174.5h1.8v1.8h-1.8zM316.3 172.9h1.8v1.8h-1.8zM316.5 170.4h1.8v1.8h-1.8zM316.7 170.8h1.8v1.8h-1.8zM316.9 166.2h1.8v1.8h-1.8zM317.1 164.4h1.8v1.8h-1.8zM317.3 166.8h1.8v1.8h-1.8zM317.5 168.2h1.8v1.8h-1.8zM317.7 164.6h1.8v1.8h-1.8zM318 171h1.8v1.8h-1.8zM318.2 167.8h1.8v1.8h-1.8zM318.4 166.8h1.8v1.8h-1.8zM318.6 160.8h1.8v1.8h-1.8zM318.8 165.4h1.8v1.8h-1.8zM319 167.7h1.8v1.8h-1.8zM319.2 171.5h1.8v1.8h-1.8zM319.4 172h1.8v1.8h-1.8zM319.6 170h1.8v1.8h-1.8zM319.9 169.5h1.8v1.8h-1.8zM320.1 165.5h1.8v1.8h-1.8zM320.3 167.2h1.8v1.8h-1.8zM320.5 165.5h1.8v1.8h-1.8zM320.7 171.5h1.8v1.8h-1.8zM320.9 160.1h1.8v1.8h-1.8zM321.1 163.5h1.8v1.8h-1.8zM321.3 167.9h1.8v1.8h-1.8zM321.5 173h1.8v1.8h-1.8zM321.8 168.4h1.8v1.8h-1.8zM322 173.2h1.8v1.8h-1.8zM322.2 168.1h1.8v1.8h-1.8zM322.4 171.6h1.8v1.8h-1.8zM322.6 170.3h1.8v1.8h-1.8zM322.8 173.5h1.8v1.8h-1.8zM323 172.9h1.8v1.8h-1.8zM323.2 172.2h1.8v1.8h-1.8zM323.4 169.7h1.8v1.8h-1.8zM323.7 174.9h1.8v1.8h-1.8zM323.9 173h1.8v1.8h-1.8zM324.1 171h1.8v1.8h-1.8zM324.3 172.2h1.8v1.8h-1.8zM324.5 172.7h1.8v1.8h-1.8zM324.7 172.4h1.8v1.8h-1.8zM324.9 174.4h1.8v1.8h-1.8zM325.1 166.7h1.8v1.8h-1.8zM325.3 171.5h1.8v1.8h-1.8zM325.6 176.2h1.8v1.8h-1.8zM325.8 173.5h1.8v1.8h-1.8zM326 176.7h1.8v1.8h-1.8zM326.2 167.4h1.8v1.8h-1.8zM326.4 170.9h1.8v1.8h-1.8zM326.6 175.2h1.8v1.8h-1.8zM326.8 180.6h1.8v1.8h-1.8zM327 168.7h1.8v1.8h-1.8zM327.2 172.3h1.8v1.8h-1.8zM327.5 172.5h1.8v1.8h-1.8zM327.7 174.5h1.8v1.8h-1.8zM327.9 177.2h1.8v1.8h-1.8zM328.1 169h1.8v1.8h-1.8zM328.3 180.1h1.8v1.8h-1.8zM328.5 176.6h1.8v1.8h-1.8zM328.7 178.9h1.8v1.8h-1.8zM328.9 172.3h1.8v1.8h-1.8zM329.1 180h1.8v1.8h-1.8zM329.4 172h1.8v1.8h-1.8zM329.6 171.4h1.8v1.8h-1.8zM329.8 172.2h1.8v1.8h-1.8zM330 175.6h1.8v1.8h-1.8zM330.2 178.4h1.8v1.8h-1.8zM330.4 173.9h1.8v1.8h-1.8zM330.6 179.2h1.8v1.8h-1.8zM330.8 174.7h1.8v1.8h-1.8zM331 176.8h1.8v1.8h-1.8zM331.2 175.4h1.8v1.8h-1.8zM331.5 176.5h1.8v1.8h-1.8zM331.7 177.6h1.8v1.8h-1.8zM331.9 180.6h1.8v1.8h-1.8zM332.1 177.3h1.8v1.8h-1.8zM332.3 185.5h1.8v1.8h-1.8zM332.5 183.4h1.8v1.8h-1.8zM332.7 179h1.8v1.8h-1.8zM332.9 174.4h1.8v1.8h-1.8zM333.1 175.8h1.8v1.8h-1.8zM333.4 177.4h1.8v1.8h-1.8zM333.6 178h1.8v1.8h-1.8zM333.8 178.3h1.8v1.8h-1.8zM334 181.6h1.8v1.8h-1.8zM334.2 176.5h1.8v1.8h-1.8zM334.4 179.4h1.8v1.8h-1.8zM334.6 180.9h1.8v1.8h-1.8zM334.8 180.2h1.8v1.8h-1.8zM335 182.1h1.8v1.8h-1.8zM335.3 175.5h1.8v1.8h-1.8zM335.5 186.1h1.8v1.8h-1.8zM335.7 173.8h1.8v1.8h-1.8zM335.9 178.9h1.8v1.8h-1.8zM336.1 174h1.8v1.8h-1.8zM336.3 178.5h1.8v1.8h-1.8zM336.5 177.9h1.8v1.8h-1.8zM336.7 183.5h1.8v1.8h-1.8zM336.9 174.4h1.8v1.8h-1.8zM337.2 179.9h1.8v1.8h-1.8zM337.4 174.9h1.8v1.8h-1.8zM337.6 181.1h1.8v1.8h-1.8zM337.8 186.2h1.8v1.8h-1.8zM338 181.1h1.8v1.8h-1.8zM338.2 182h1.8v1.8h-1.8zM338.4 176.5h1.8v1.8h-1.8zM338.6 181.9h1.8v1.8h-1.8zM338.8 176.1h1.8v1.8h-1.8zM339.1 182.2h1.8v1.8h-1.8zM339.3 180.3h1.8v1.8h-1.8zM339.5 179.6h1.8v1.8h-1.8zM339.7 183.9h1.8v1.8h-1.8zM339.9 179.3h1.8v1.8h-1.8zM340.1 178.1h1.8v1.8h-1.8zM340.3 183.5h1.8v1.8h-1.8zM340.5 177.8h1.8v1.8h-1.8zM340.7 180.8h1.8v1.8h-1.8zM341 172.2h1.8v1.8h-1.8zM341.2 182.4h1.8v1.8h-1.8zM341.4 184.8h1.8v1.8h-1.8zM341.6 180.2h1.8v1.8h-1.8zM341.8 175.7h1.8v1.8h-1.8zM342 176.8h1.8v1.8h-1.8zM342.2 177.4h1.8v1.8h-1.8zM342.4 184.8h1.8v1.8h-1.8zM342.6 181.1h1.8v1.8h-1.8zM342.9 182.7h1.8v1.8h-1.8zM343.1 178.6h1.8v1.8h-1.8zM343.3 183.4h1.8v1.8h-1.8zM343.5 179.8h1.8v1.8h-1.8zM343.7 180.4h1.8v1.8h-1.8zM343.9 175h1.8v1.8h-1.8zM344.1 180.1h1.8v1.8h-1.8zM344.3 185.8h1.8v1.8h-1.8zM344.5 183.3h1.8v1.8h-1.8zM344.7 176.4h1.8v1.8h-1.8zM345 184h1.8v1.8h-1.8zM345.2 179.7h1.8v1.8h-1.8zM345.4 179.7h1.8v1.8h-1.8zM345.6 181.6h1.8v1.8h-1.8zM345.8 181.6h1.8v1.8h-1.8zM346 184.3h1.8v1.8h-1.8zM346.2 189.1h1.8v1.8h-1.8zM346.4 180.3h1.8v1.8h-1.8zM346.6 188.7h1.8v1.8h-1.8zM346.9 181.9h1.8v1.8h-1.8zM347.1 179h1.8v1.8h-1.8zM347.3 184.6h1.8v1.8h-1.8zM347.5 178.7h1.8v1.8h-1.8zM347.7 180.5h1.8v1.8h-1.8zM347.9 183.9h1.8v1.8h-1.8zM348.1 188.6h1.8v1.8h-1.8zM348.3 183.5h1.8v1.8h-1.8zM348.5 181.5h1.8v1.8h-1.8zM348.8 190.1h1.8v1.8h-1.8zM349 181.5h1.8v1.8h-1.8zM349.2 177.7h1.8v1.8h-1.8zM349.4 185.9h1.8v1.8h-1.8zM349.6 176.5h1.8v1.8h-1.8zM349.8 181.7h1.8v1.8h-1.8zM350 183.4h1.8v1.8h-1.8zM350.2 178.3h1.8v1.8h-1.8zM350.4 185.2h1.8v1.8h-1.8zM350.7 184.8h1.8v1.8h-1.8zM350.9 184.4h1.8v1.8h-1.8zM351.1 178.2h1.8v1.8h-1.8zM351.3 184.1h1.8v1.8h-1.8zM351.5 175h1.8v1.8h-1.8zM351.7 180.7h1.8v1.8h-1.8zM351.9 184.4h1.8v1.8h-1.8zM352.1 175h1.8v1.8h-1.8zM352.3 184.4h1.8v1.8h-1.8zM352.6 184.7h1.8v1.8h-1.8zM352.8 182.3h1.8v1.8h-1.8zM353 186.5h1.8v1.8h-1.8zM353.2 177.2h1.8v1.8h-1.8zM353.4 180h1.8v1.8h-1.8zM353.6 185.8h1.8v1.8h-1.8zM353.8 186.5h1.8v1.8h-1.8zM354 187.6h1.8v1.8h-1.8zM354.2 177.5h1.8v1.8h-1.8zM354.5 183.6h1.8v1.8h-1.8zM354.7 183.6h1.8v1.8h-1.8zM354.9 187.2h1.8v1.8h-1.8zM355.1 191.1h1.8v1.8h-1.8zM355.3 189.1h1.8v1.8h-1.8zM355.5 183.6h1.8v1.8h-1.8zM355.7 179.3h1.8v1.8h-1.8zM355.9 190.7h1.8v1.8h-1.8zM356.1 179.9h1.8v1.8h-1.8zM356.4 177.7h1.8v1.8h-1.8zM356.6 181.2h1.8v1.8h-1.8zM356.8 188.6h1.8v1.8h-1.8zM357 191.5h1.8v1.8h-1.8zM357.2 187.5h1.8v1.8h-1.8zM357.4 178.6h1.8v1.8h-1.8zM357.6 179.8h1.8v1.8h-1.8zM357.8 180.8h1.8v1.8h-1.8zM358 191.4h1.8v1.8h-1.8zM358.2 177.7h1.8v1.8h-1.8zM358.5 184.5h1.8v1.8h-1.8zM358.7 180.4h1.8v1.8h-1.8zM358.9 185.2h1.8v1.8h-1.8zM359.1 179.2h1.8v1.8h-1.8zM359.3 184.8h1.8v1.8h-1.8zM359.5 178.5h1.8v1.8h-1.8zM359.7 178.8h1.8v1.8h-1.8zM359.9 184.1h1.8v1.8h-1.8zM360.1 187h1.8v1.8h-1.8zM360.4 185.1h1.8v1.8h-1.8zM360.6 177.6h1.8v1.8h-1.8zM360.8 185.9h1.8v1.8h-1.8zM361 181.3h1.8v1.8h-1.8zM361.2 181.3h1.8v1.8h-1.8zM361.4 183.3h1.8v1.8h-1.8zM361.6 186.9h1.8v1.8h-1.8zM361.8 185.1h1.8v1.8h-1.8zM362 179.4h1.8v1.8h-1.8zM362.3 193.8h1.8v1.8h-1.8zM362.5 184h1.8v1.8h-1.8zM362.7 182.6h1.8v1.8h-1.8zM362.9 184.3h1.8v1.8h-1.8zM363.1 190.4h1.8v1.8h-1.8zM363.3 185h1.8v1.8h-1.8zM363.5 181.6h1.8v1.8h-1.8zM363.7 187.2h1.8v1.8h-1.8zM363.9 188h1.8v1.8h-1.8zM364.2 188h1.8v1.8h-1.8zM364.4 181.9h1.8v1.8h-1.8zM364.6 184.3h1.8v1.8h-1.8zM364.8 185.3h1.8v1.8h-1.8zM365 178h1.8v1.8h-1.8zM365.2 186.8h1.8v1.8h-1.8zM365.4 182.5h1.8v1.8h-1.8zM365.6 183.9h1.8v1.8h-1.8zM365.8 180.5h1.8v1.8h-1.8zM366.1 183.5h1.8v1.8h-1.8zM366.3 186.4h1.8v1.8h-1.8zM366.5 185.6h1.8v1.8h-1.8zM366.7 187.1h1.8v1.8h-1.8zM366.9 184.2h1.8v1.8h-1.8zM367.1 184.9h1.8v1.8h-1.8zM367.3 184.5h1.8v1.8h-1.8zM367.5 184.5h1.8v1.8h-1.8zM367.7 182.4h1.8v1.8h-1.8zM368 185.2h1.8v1.8h-1.8zM368.2 183.8h1.8v1.8h-1.8zM368.4 179.1h1.8v1.8h-1.8zM368.6 185.9h1.8v1.8h-1.8zM368.8 185.9h1.8v1.8h-1.8zM369 185.2h1.8v1.8h-1.8zM369.2 184.1h1.8v1.8h-1.8zM369.4 182h1.8v1.8h-1.8zM369.6 185.9h1.8v1.8h-1.8zM369.9 184.4h1.8v1.8h-1.8zM370.1 189.8h1.8v1.8h-1.8zM370.3 183.4h1.8v1.8h-1.8zM370.5 182.7h1.8v1.8h-1.8zM370.7 184.8h1.8v1.8h-1.8zM370.9 186.2h1.8v1.8h-1.8zM371.1 182.7h1.8v1.8h-1.8zM371.3 187h1.8v1.8h-1.8zM371.5 187h1.8v1.8h-1.8zM371.7 188.1h1.8v1.8h-1.8zM372 188.9h1.8v1.8h-1.8zM372.2 191.4h1.8v1.8h-1.8zM372.4 184h1.8v1.8h-1.8zM372.6 186.6h1.8v1.8h-1.8zM372.8 189.3h1.8v1.8h-1.8zM373 185.8h1.8v1.8h-1.8zM373.2 188.9h1.8v1.8h-1.8zM373.4 181.6h1.8v1.8h-1.8zM373.6 190.9h1.8v1.8h-1.8zM373.9 193.9h1.8v1.8h-1.8zM374.1 189.3h1.8v1.8h-1.8zM374.3 192.6h1.8v1.8h-1.8zM374.5 184.4h1.8v1.8h-1.8zM374.7 182.6h1.8v1.8h-1.8zM374.9 181.9h1.8v1.8h-1.8zM375.1 185.1h1.8v1.8h-1.8zM375.3 178.7h1.8v1.8h-1.8zM375.5 182.9h1.8v1.8h-1.8zM375.8 184.3h1.8v1.8h-1.8zM376 181.9h1.8v1.8h-1.8zM376.2 187.3h1.8v1.8h-1.8zM376.4 182.6h1.8v1.8h-1.8zM376.6 185h1.8v1.8h-1.8zM376.8 184.3h1.8v1.8h-1.8zM377 185.8h1.8v1.8h-1.8zM377.2 179.6h1.8v1.8h-1.8zM377.4 188.8h1.8v1.8h-1.8zM377.7 187.6h1.8v1.8h-1.8zM377.9 187.2h1.8v1.8h-1.8zM378.1 183.9h1.8v1.8h-1.8zM378.3 189.6h1.8v1.8h-1.8zM378.5 184.6h1.8v1.8h-1.8zM378.7 187.2h1.8v1.8h-1.8zM378.9 185h1.8v1.8h-1.8zM379.1 186.5h1.8v1.8h-1.8zM379.3 186.5h1.8v1.8h-1.8zM379.6 182.9h1.8v1.8h-1.8zM379.8 187.2h1.8v1.8h-1.8zM380 187.6h1.8v1.8h-1.8zM380.2 190.8h1.8v1.8h-1.8zM380.4 185.7h1.8v1.8h-1.8zM380.6 190.4h1.8v1.8h-1.8zM380.8 184.2h1.8v1.8h-1.8zM381 193.8h1.8v1.8h-1.8zM381.2 187.6h1.8v1.8h-1.8zM381.5 187.6h1.8v1.8h-1.8zM381.7 188.3h1.8v1.8h-1.8zM381.9 182.8h1.8v1.8h-1.8zM382.1 186.8h1.8v1.8h-1.8zM382.3 182.1h1.8v1.8h-1.8zM382.5 177.9h1.8v1.8h-1.8zM382.7 195.1h1.8v1.8h-1.8zM382.9 187.2h1.8v1.8h-1.8zM383.1 187.9h1.8v1.8h-1.8zM383.4 183.1h1.8v1.8h-1.8zM383.6 189.5h1.8v1.8h-1.8zM383.8 188.3h1.8v1.8h-1.8zM384 184.9h1.8v1.8h-1.8zM384.2 180.7h1.8v1.8h-1.8zM384.4 190.3h1.8v1.8h-1.8zM384.6 189.1h1.8v1.8h-1.8zM384.8 184.2h1.8v1.8h-1.8zM385 185.6h1.8v1.8h-1.8zM385.2 184.5h1.8v1.8h-1.8zM385.5 186h1.8v1.8h-1.8zM385.7 183.4h1.8v1.8h-1.8zM385.9 191.1h1.8v1.8h-1.8zM386.1 192h1.8v1.8h-1.8zM386.3 179.4h1.8v1.8h-1.8zM386.5 191.1h1.8v1.8h-1.8zM386.7 185.2h1.8v1.8h-1.8zM386.9 180.7h1.8v1.8h-1.8zM387.1 179.1h1.8v1.8h-1.8zM387.4 178.4h1.8v1.8h-1.8zM387.6 184.1h1.8v1.8h-1.8zM387.8 185.9h1.8v1.8h-1.8zM388 185.2h1.8v1.8h-1.8zM388.2 180.7h1.8v1.8h-1.8zM388.4 187.4h1.8v1.8h-1.8zM388.6 180.7h1.8v1.8h-1.8zM388.8 187.8h1.8v1.8h-1.8zM389 187h1.8v1.8h-1.8zM389.3 190.2h1.8v1.8h-1.8zM389.5 184.1h1.8v1.8h-1.8zM389.7 180.3h1.8v1.8h-1.8zM389.9 190.2h1.8v1.8h-1.8zM390.1 187h1.8v1.8h-1.8zM390.3 185.9h1.8v1.8h-1.8zM390.5 185.8h1.8v1.8h-1.8zM390.7 187h1.8v1.8h-1.8zM390.9 191.8h1.8v1.8h-1.8zM391.2 186.6h1.8v1.8h-1.8zM391.4 184.7h1.8v1.8h-1.8zM391.6 179.2h1.8v1.8h-1.8zM391.8 181.2h1.8v1.8h-1.8zM392 191.4h1.8v1.8h-1.8zM392.2 184.7h1.8v1.8h-1.8zM392.4 185.8h1.8v1.8h-1.8zM392.6 192.6h1.8v1.8h-1.8zM392.8 184.3h1.8v1.8h-1.8zM393.1 184.6h1.8v1.8h-1.8zM393.3 193h1.8v1.8h-1.8zM393.5 192.2h1.8v1.8h-1.8zM393.7 186.5h1.8v1.8h-1.8zM393.9 188h1.8v1.8h-1.8zM394.1 196.7h1.8v1.8h-1.8zM394.3 186.4h1.8v1.8h-1.8zM394.5 191.2h1.8v1.8h-1.8zM394.7 190.4h1.8v1.8h-1.8zM395 182.8h1.8v1.8h-1.8zM395.2 183.5h1.8v1.8h-1.8zM395.4 188.3h1.8v1.8h-1.8zM395.6 186.4h1.8v1.8h-1.8zM395.8 188.7h1.8v1.8h-1.8zM396 188.3h1.8v1.8h-1.8zM396.2 183.8h1.8v1.8h-1.8zM396.4 183.4h1.8v1.8h-1.8zM396.6 191.2h1.8v1.8h-1.8zM396.9 191.6h1.8v1.8h-1.8zM397.1 183h1.8v1.8h-1.8zM397.3 189.1h1.8v1.8h-1.8zM397.5 188.6h1.8v1.8h-1.8zM397.7 188.2h1.8v1.8h-1.8zM397.9 186.7h1.8v1.8h-1.8zM398.1 189.8h1.8v1.8h-1.8zM398.3 189.4h1.8v1.8h-1.8zM398.5 184.4h1.8v1.8h-1.8zM398.7 191.5h1.8v1.8h-1.8zM399 184h1.8v1.8h-1.8zM399.2 185.1h1.8v1.8h-1.8zM399.4 190.6h1.8v1.8h-1.8zM399.6 199h1.8v1.8h-1.8zM399.8 200h1.8v1.8h-1.8zM400 193.7h1.8v1.8h-1.8zM400.2 193.6h1.8v1.8h-1.8zM400.4 186.2h1.8v1.8h-1.8zM400.6 188.9h1.8v1.8h-1.8zM400.9 194.1h1.8v1.8h-1.8zM401.1 186.5h1.8v1.8h-1.8zM401.3 194.1h1.8v1.8h-1.8zM401.5 196.4h1.8v1.8h-1.8zM401.7 189.3h1.8v1.8h-1.8zM401.9 195.4h1.8v1.8h-1.8zM402.1 192.7h1.8v1.8h-1.8zM402.3 193.1h1.8v1.8h-1.8zM402.5 199.9h1.8v1.8h-1.8zM402.8 189.2h1.8v1.8h-1.8zM403 183.9h1.8v1.8h-1.8zM403.2 197.8h1.8v1.8h-1.8zM403.4 190.5h1.8v1.8h-1.8zM403.6 180.7h1.8v1.8h-1.8zM403.8 184.2h1.8v1.8h-1.8zM404 184.9h1.8v1.8h-1.8zM404.2 189.2h1.8v1.8h-1.8zM404.4 189.6h1.8v1.8h-1.8zM404.7 190.4h1.8v1.8h-1.8zM404.9 195.3h1.8v1.8h-1.8zM405.1 189.1h1.8v1.8h-1.8zM405.3 193h1.8v1.8h-1.8zM405.5 194.3h1.8v1.8h-1.8zM405.7 184.8h1.8v1.8h-1.8zM405.9 189.1h1.8v1.8h-1.8zM406.1 185.5h1.8v1.8h-1.8zM406.3 186.7h1.8v1.8h-1.8zM406.6 184h1.8v1.8h-1.8zM406.8 188.6h1.8v1.8h-1.8zM407 192.4h1.8v1.8h-1.8zM407.2 192.4h1.8v1.8h-1.8zM407.4 196.1h1.8v1.8h-1.8zM407.6 189.4h1.8v1.8h-1.8zM407.8 193.3h1.8v1.8h-1.8zM408 185.4h1.8v1.8h-1.8zM408.2 193.2h1.8v1.8h-1.8zM408.5 199h1.8v1.8h-1.8zM408.7 188.9h1.8v1.8h-1.8zM408.9 198.5h1.8v1.8h-1.8zM409.1 194.1h1.8v1.8h-1.8zM409.3 191.8h1.8v1.8h-1.8zM409.5 184.2h1.8v1.8h-1.8zM409.7 185.7h1.8v1.8h-1.8zM409.9 185.7h1.8v1.8h-1.8zM410.1 187.2h1.8v1.8h-1.8zM410.4 195h1.8v1.8h-1.8zM410.6 187.6h1.8v1.8h-1.8zM410.8 190h1.8v1.8h-1.8zM411 196.9h1.8v1.8h-1.8zM411.2 188.8h1.8v1.8h-1.8zM411.4 183.8h1.8v1.8h-1.8zM411.6 186.7h1.8v1.8h-1.8zM411.8 190h1.8v1.8h-1.8zM412 192.6h1.8v1.8h-1.8zM412.2 193.9h1.8v1.8h-1.8zM412.5 190.4h1.8v1.8h-1.8zM412.7 190.4h1.8v1.8h-1.8zM412.9 185.9h1.8v1.8h-1.8zM413.1 189.9h1.8v1.8h-1.8zM413.3 191.6h1.8v1.8h-1.8zM413.5 192.5h1.8v1.8h-1.8zM413.7 192.9h1.8v1.8h-1.8zM413.9 197.2h1.8v1.8h-1.8zM414.1 190.7h1.8v1.8h-1.8zM414.4 188.2h1.8v1.8h-1.8zM414.6 200.8h1.8v1.8h-1.8zM414.8 188.6h1.8v1.8h-1.8zM415 188.1h1.8v1.8h-1.8zM415.2 182.1h1.8v1.8h-1.8zM415.4 205.4h1.8v1.8h-1.8zM415.6 190.6h1.8v1.8h-1.8zM415.8 194.6h1.8v1.8h-1.8zM416 187.7h1.8v1.8h-1.8zM416.3 191.9h1.8v1.8h-1.8zM416.5 193.7h1.8v1.8h-1.8zM416.7 187.2h1.8v1.8h-1.8zM416.9 191h1.8v1.8h-1.8zM417.1 188.8h1.8v1.8h-1.8zM417.3 187.2h1.8v1.8h-1.8zM417.5 191.4h1.8v1.8h-1.8zM417.7 194.1h1.8v1.8h-1.8zM417.9 196.5h1.8v1.8h-1.8zM418.2 184.1h1.8v1.8h-1.8zM418.4 202.8h1.8v1.8h-1.8zM418.6 191.3h1.8v1.8h-1.8zM418.8 196.4h1.8v1.8h-1.8zM419 195.9h1.8v1.8h-1.8zM419.2 202.2h1.8v1.8h-1.8zM419.4 192.6h1.8v1.8h-1.8zM419.6 191.7h1.8v1.8h-1.8zM419.8 197.9h1.8v1.8h-1.8zM420.1 189.5h1.8v1.8h-1.8zM420.3 190.4h1.8v1.8h-1.8zM420.5 187.9h1.8v1.8h-1.8zM420.7 184.4h1.8v1.8h-1.8zM420.9 192.1h1.8v1.8h-1.8zM421.1 192.1h1.8v1.8h-1.8zM421.3 202.7h1.8v1.8h-1.8zM421.5 192.1h1.8v1.8h-1.8zM421.7 187h1.8v1.8h-1.8zM422 187.8h1.8v1.8h-1.8zM422.2 201.5h1.8v1.8h-1.8zM422.4 193.4h1.8v1.8h-1.8zM422.6 196.8h1.8v1.8h-1.8zM422.8 186.6h1.8v1.8h-1.8zM423 196.8h1.8v1.8h-1.8zM423.2 195.3h1.8v1.8h-1.8zM423.4 197.8h1.8v1.8h-1.8zM423.6 190.3h1.8v1.8h-1.8zM423.9 194.3h1.8v1.8h-1.8zM424.1 193.4h1.8v1.8h-1.8zM424.3 191.5h1.8v1.8h-1.8zM424.5 186.9h1.8v1.8h-1.8zM424.7 192h1.8v1.8h-1.8zM424.9 194.3h1.8v1.8h-1.8zM425.1 191.1h1.8v1.8h-1.8zM425.3 194.2h1.8v1.8h-1.8zM425.5 197.2h1.8v1.8h-1.8zM425.7 201.4h1.8v1.8h-1.8zM426 194.2h1.8v1.8h-1.8zM426.2 195.7h1.8v1.8h-1.8zM426.4 194.2h1.8v1.8h-1.8zM426.6 190.2h1.8v1.8h-1.8zM426.8 190.1h1.8v1.8h-1.8zM427 192.8h1.8v1.8h-1.8zM427.2 189.7h1.8v1.8h-1.8zM427.4 187.2h1.8v1.8h-1.8zM427.6 199.7h1.8v1.8h-1.8zM427.9 193.7h1.8v1.8h-1.8zM428.1 193.2h1.8v1.8h-1.8zM428.3 190.5h1.8v1.8h-1.8zM428.5 195.1h1.8v1.8h-1.8zM428.7 193.7h1.8v1.8h-1.8zM428.9 189.6h1.8v1.8h-1.8zM429.1 200.2h1.8v1.8h-1.8zM429.3 197h1.8v1.8h-1.8zM429.5 201.3h1.8v1.8h-1.8zM429.8 189.6h1.8v1.8h-1.8zM430 201.3h1.8v1.8h-1.8zM430.2 189.2h1.8v1.8h-1.8zM430.4 201.3h1.8v1.8h-1.8zM430.6 192.7h1.8v1.8h-1.8zM430.8 192.2h1.8v1.8h-1.8zM431 195.5h1.8v1.8h-1.8zM431.2 190.4h1.8v1.8h-1.8zM431.4 197.5h1.8v1.8h-1.8zM431.7 189.1h1.8v1.8h-1.8zM431.9 192.2h1.8v1.8h-1.8zM432.1 190.8h1.8v1.8h-1.8zM432.3 191.3h1.8v1.8h-1.8zM432.5 197.4h1.8v1.8h-1.8zM432.7 196.4h1.8v1.8h-1.8zM432.9 199.5h1.8v1.8h-1.8zM433.1 185.8h1.8v1.8h-1.8zM433.3 196.9h1.8v1.8h-1.8zM433.6 197.4h1.8v1.8h-1.8zM433.8 186.6h1.8v1.8h-1.8zM434 199h1.8v1.8h-1.8zM434.2 191.7h1.8v1.8h-1.8zM434.4 196.9h1.8v1.8h-1.8zM434.6 200.6h1.8v1.8h-1.8zM434.8 199.5h1.8v1.8h-1.8zM435 196.8h1.8v1.8h-1.8zM435.2 191.2h1.8v1.8h-1.8zM435.5 193.9h1.8v1.8h-1.8zM435.7 192.9h1.8v1.8h-1.8zM435.9 196.3h1.8v1.8h-1.8zM436.1 199.4h1.8v1.8h-1.8zM436.3 188.9h1.8v1.8h-1.8zM436.5 196.3h1.8v1.8h-1.8zM436.7 198.3h1.8v1.8h-1.8zM436.9 194.3h1.8v1.8h-1.8zM437.1 192.4h1.8v1.8h-1.8zM437.4 194.3h1.8v1.8h-1.8zM437.6 190.6h1.8v1.8h-1.8zM437.8 208.9h1.8v1.8h-1.8zM438 200.9h1.8v1.8h-1.8zM438.2 188h1.8v1.8h-1.8zM438.4 196.2h1.8v1.8h-1.8zM438.6 194.2h1.8v1.8h-1.8zM438.8 195.6h1.8v1.8h-1.8zM439 195.1h1.8v1.8h-1.8zM439.2 195.1h1.8v1.8h-1.8zM439.5 199.8h1.8v1.8h-1.8zM439.7 204.4h1.8v1.8h-1.8zM439.9 196.1h1.8v1.8h-1.8zM440.1 198.7h1.8v1.8h-1.8zM440.3 190h1.8v1.8h-1.8zM440.5 194.1h1.8v1.8h-1.8zM440.7 199.7h1.8v1.8h-1.8zM440.9 198.6h1.8v1.8h-1.8zM441.1 199.7h1.8v1.8h-1.8zM441.4 200.2h1.8v1.8h-1.8zM441.6 196h1.8v1.8h-1.8zM441.8 198.6h1.8v1.8h-1.8zM442 204.9h1.8v1.8h-1.8zM442.2 200.2h1.8v1.8h-1.8zM442.4 203h1.8v1.8h-1.8zM442.6 193.1h1.8v1.8h-1.8zM442.8 195h1.8v1.8h-1.8zM443 198h1.8v1.8h-1.8zM443.3 193h1.8v1.8h-1.8zM443.5 193.5h1.8v1.8h-1.8zM443.7 196.4h1.8v1.8h-1.8zM443.9 199h1.8v1.8h-1.8zM444.1 202.4h1.8v1.8h-1.8zM444.3 193.4h1.8v1.8h-1.8zM444.5 193.4h1.8v1.8h-1.8zM444.7 198.4h1.8v1.8h-1.8zM444.9 192h1.8v1.8h-1.8zM445.2 190.7h1.8v1.8h-1.8zM445.4 196.8h1.8v1.8h-1.8zM445.6 200.6h1.8v1.8h-1.8zM445.8 191.1h1.8v1.8h-1.8zM446 196.3h1.8v1.8h-1.8zM446.2 198.9h1.8v1.8h-1.8zM446.4 202.8h1.8v1.8h-1.8zM446.6 195.8h1.8v1.8h-1.8zM446.8 199.4h1.8v1.8h-1.8zM447.1 209.8h1.8v1.8h-1.8zM447.3 195.2h1.8v1.8h-1.8zM447.5 191.9h1.8v1.8h-1.8zM447.7 201h1.8v1.8h-1.8zM447.9 192.8h1.8v1.8h-1.8zM448.1 191.4h1.8v1.8h-1.8zM448.3 208.4h1.8v1.8h-1.8zM448.5 195.7h1.8v1.8h-1.8zM448.7 197.2h1.8v1.8h-1.8zM449 194.2h1.8v1.8h-1.8zM449.2 195.6h1.8v1.8h-1.8zM449.4 187h1.8v1.8h-1.8zM449.6 203.9h1.8v1.8h-1.8zM449.8 192.7h1.8v1.8h-1.8zM450 193.6h1.8v1.8h-1.8zM450.2 195.1h1.8v1.8h-1.8zM450.4 200.3h1.8v1.8h-1.8zM450.6 202.1h1.8v1.8h-1.8zM450.9 200.9h1.8v1.8h-1.8zM451.1 192.7h1.8v1.8h-1.8zM451.3 197.6h1.8v1.8h-1.8zM451.5 209.7h1.8v1.8h-1.8zM451.7 193.1h1.8v1.8h-1.8zM451.9 203.2h1.8v1.8h-1.8zM452.1 198.6h1.8v1.8h-1.8zM452.3 195.5h1.8v1.8h-1.8zM452.5 197.1h1.8v1.8h-1.8zM452.7 205h1.8v1.8h-1.8zM453 198.6h1.8v1.8h-1.8zM453.2 195h1.8v1.8h-1.8zM453.4 197h1.8v1.8h-1.8zM453.6 198.6h1.8v1.8h-1.8zM453.8 195.5h1.8v1.8h-1.8zM454 199.1h1.8v1.8h-1.8zM454.2 195.5h1.8v1.8h-1.8zM454.4 203.1h1.8v1.8h-1.8zM454.6 201.9h1.8v1.8h-1.8zM454.9 199.7h1.8v1.8h-1.8zM455.1 200.2h1.8v1.8h-1.8zM455.3 199.1h1.8v1.8h-1.8zM455.5 197.5h1.8v1.8h-1.8zM455.7 191.1h1.8v1.8h-1.8zM455.9 188.5h1.8v1.8h-1.8zM456.1 197.5h1.8v1.8h-1.8zM456.3 210.2h1.8v1.8h-1.8zM456.5 196.9h1.8v1.8h-1.8zM456.8 198.5h1.8v1.8h-1.8zM457 196.9h1.8v1.8h-1.8zM457.2 203.6h1.8v1.8h-1.8zM457.4 191.5h1.8v1.8h-1.8zM457.6 199h1.8v1.8h-1.8zM457.8 204.2h1.8v1.8h-1.8zM458 203h1.8v1.8h-1.8zM458.2 194.4h1.8v1.8h-1.8zM458.4 198.4h1.8v1.8h-1.8zM458.7 200.6h1.8v1.8h-1.8zM458.9 197.4h1.8v1.8h-1.8zM459.1 198.4h1.8v1.8h-1.8zM459.3 201.8h1.8v1.8h-1.8zM459.5 203.6h1.8v1.8h-1.8zM459.7 190.6h1.8v1.8h-1.8zM459.9 199.5h1.8v1.8h-1.8zM460.1 197.3h1.8v1.8h-1.8zM460.3 200h1.8v1.8h-1.8zM460.6 195.3h1.8v1.8h-1.8zM460.8 198.9h1.8v1.8h-1.8zM461 200.6h1.8v1.8h-1.8zM461.2 204.7h1.8v1.8h-1.8zM461.4 197.8h1.8v1.8h-1.8zM461.6 200h1.8v1.8h-1.8zM461.8 193.3h1.8v1.8h-1.8zM462 200.5h1.8v1.8h-1.8zM462.2 197.8h1.8v1.8h-1.8zM462.5 197.8h1.8v1.8h-1.8zM462.7 198.9h1.8v1.8h-1.8zM462.9 201.7h1.8v1.8h-1.8zM463.1 196.2h1.8v1.8h-1.8zM463.3 202.8h1.8v1.8h-1.8zM463.5 195.7h1.8v1.8h-1.8zM463.7 199.4h1.8v1.8h-1.8zM463.9 197.7h1.8v1.8h-1.8zM464.1 202.2h1.8v1.8h-1.8zM464.4 199.9h1.8v1.8h-1.8zM464.6 199.9h1.8v1.8h-1.8zM464.8 199.9h1.8v1.8h-1.8zM465 206.5h1.8v1.8h-1.8zM465.2 193.6h1.8v1.8h-1.8zM465.4 202.2h1.8v1.8h-1.8zM465.6 203.4h1.8v1.8h-1.8zM465.8 190.4h1.8v1.8h-1.8zM466 212.8h1.8v1.8h-1.8zM466.2 198.7h1.8v1.8h-1.8zM466.5 198.2h1.8v1.8h-1.8zM466.7 205.2h1.8v1.8h-1.8zM466.9 198.2h1.8v1.8h-1.8zM467.1 195.6h1.8v1.8h-1.8zM467.3 197.1h1.8v1.8h-1.8zM467.5 202.7h1.8v1.8h-1.8zM467.7 206.4h1.8v1.8h-1.8zM467.9 198.7h1.8v1.8h-1.8zM468.1 211.3h1.8v1.8h-1.8zM468.4 196h1.8v1.8h-1.8zM468.6 196h1.8v1.8h-1.8zM468.8 193h1.8v1.8h-1.8zM469 197h1.8v1.8h-1.8zM469.2 190.7h1.8v1.8h-1.8zM469.4 203.2h1.8v1.8h-1.8zM469.6 203.8h1.8v1.8h-1.8zM469.8 200.3h1.8v1.8h-1.8zM470 199.2h1.8v1.8h-1.8zM470.3 195.5h1.8v1.8h-1.8zM470.5 210.5h1.8v1.8h-1.8zM470.7 212.7h1.8v1.8h-1.8zM470.9 197h1.8v1.8h-1.8zM471.1 203.2h1.8v1.8h-1.8zM471.3 205h1.8v1.8h-1.8zM471.5 197.5h1.8v1.8h-1.8zM471.7 202.6h1.8v1.8h-1.8zM471.9 202.6h1.8v1.8h-1.8zM472.2 199.7h1.8v1.8h-1.8zM472.4 199.6h1.8v1.8h-1.8zM472.6 206.9h1.8v1.8h-1.8zM472.8 202.5h1.8v1.8h-1.8zM473 196.4h1.8v1.8h-1.8zM473.2 209h1.8v1.8h-1.8zM473.4 204.3h1.8v1.8h-1.8zM473.6 198h1.8v1.8h-1.8zM473.8 203.7h1.8v1.8h-1.8zM474.1 193.4h1.8v1.8h-1.8zM474.3 203.7h1.8v1.8h-1.8zM474.5 206.9h1.8v1.8h-1.8zM474.7 208.9h1.8v1.8h-1.8zM474.9 202.5h1.8v1.8h-1.8zM475.1 200.1h1.8v1.8h-1.8zM475.3 196.3h1.8v1.8h-1.8zM475.5 205.5h1.8v1.8h-1.8zM475.7 200.1h1.8v1.8h-1.8zM476 206.8h1.8v1.8h-1.8zM476.2 200.7h1.8v1.8h-1.8zM476.4 194.8h1.8v1.8h-1.8zM476.6 202.4h1.8v1.8h-1.8zM476.8 196.3h1.8v1.8h-1.8zM477 199.5h1.8v1.8h-1.8zM477.2 200.6h1.8v1.8h-1.8zM477.4 198.9h1.8v1.8h-1.8zM477.6 206.1h1.8v1.8h-1.8zM477.9 199.5h1.8v1.8h-1.8zM478.1 198.4h1.8v1.8h-1.8zM478.3 211.7h1.8v1.8h-1.8zM478.5 206.1h1.8v1.8h-1.8zM478.7 201.2h1.8v1.8h-1.8zM478.9 193.7h1.8v1.8h-1.8zM479.1 206.1h1.8v1.8h-1.8zM479.3 206.1h1.8v1.8h-1.8zM479.5 198.3h1.8v1.8h-1.8zM479.7 210.2h1.8v1.8h-1.8zM480 208.8h1.8v1.8h-1.8zM480.2 195.7h1.8v1.8h-1.8zM480.4 196.2h1.8v1.8h-1.8zM480.6 200.5h1.8v1.8h-1.8zM480.8 202.3h1.8v1.8h-1.8zM481 193.2h1.8v1.8h-1.8zM481.2 203.5h1.8v1.8h-1.8zM481.4 206h1.8v1.8h-1.8zM481.6 205.4h1.8v1.8h-1.8zM481.9 206.7h1.8v1.8h-1.8zM482.1 199.9h1.8v1.8h-1.8zM482.3 194.6h1.8v1.8h-1.8zM482.5 204.1h1.8v1.8h-1.8zM482.7 197.2h1.8v1.8h-1.8zM482.9 200.5h1.8v1.8h-1.8zM483.1 207.3h1.8v1.8h-1.8zM483.3 198.2h1.8v1.8h-1.8zM483.5 204.1h1.8v1.8h-1.8zM483.8 200.5h1.8v1.8h-1.8zM484 198.8h1.8v1.8h-1.8zM484.2 200.5h1.8v1.8h-1.8zM484.4 209.4h1.8v1.8h-1.8zM484.6 196.1h1.8v1.8h-1.8zM484.8 197.7h1.8v1.8h-1.8zM485 205.3h1.8v1.8h-1.8zM485.2 199.3h1.8v1.8h-1.8zM485.4 198.7h1.8v1.8h-1.8zM485.7 200.4h1.8v1.8h-1.8zM485.9 206.6h1.8v1.8h-1.8zM486.1 203.4h1.8v1.8h-1.8zM486.3 202.8h1.8v1.8h-1.8zM486.5 203.4h1.8v1.8h-1.8zM486.7 205.2h1.8v1.8h-1.8zM486.9 198.7h1.8v1.8h-1.8zM487.1 204.6h1.8v1.8h-1.8zM487.3 205.9h1.8v1.8h-1.8zM487.6 200.9h1.8v1.8h-1.8zM487.8 204.6h1.8v1.8h-1.8zM488 224.4h1.8v1.8h-1.8zM488.2 198.7h1.8v1.8h-1.8zM488.4 208.5h1.8v1.8h-1.8zM488.6 197.6h1.8v1.8h-1.8zM488.8 211.4h1.8v1.8h-1.8zM489 199.8h1.8v1.8h-1.8zM489.2 205.2h1.8v1.8h-1.8zM489.5 206.5h1.8v1.8h-1.8zM489.7 209.9h1.8v1.8h-1.8zM489.9 193.9h1.8v1.8h-1.8zM490.1 199.7h1.8v1.8h-1.8zM490.3 205.8h1.8v1.8h-1.8zM490.5 199.1h1.8v1.8h-1.8zM490.7 207.8h1.8v1.8h-1.8zM490.9 202h1.8v1.8h-1.8zM491.1 203.9h1.8v1.8h-1.8zM491.4 207.1h1.8v1.8h-1.8zM491.6 194.4h1.8v1.8h-1.8zM491.8 199.1h1.8v1.8h-1.8zM492 216.1h1.8v1.8h-1.8zM492.2 203.2h1.8v1.8h-1.8zM492.4 201.4h1.8v1.8h-1.8zM492.6 203.2h1.8v1.8h-1.8zM492.8 207.7h1.8v1.8h-1.8zM493 202h1.8v1.8h-1.8zM493.2 212.8h1.8v1.8h-1.8zM493.5 210.6h1.8v1.8h-1.8zM493.7 203.2h1.8v1.8h-1.8zM493.9 201.4h1.8v1.8h-1.8zM494.1 209.1h1.8v1.8h-1.8zM494.3 196.3h1.8v1.8h-1.8zM494.5 200.8h1.8v1.8h-1.8zM494.7 201.3h1.8v1.8h-1.8zM494.9 209.8h1.8v1.8h-1.8zM495.1 212.8h1.8v1.8h-1.8zM495.4 200.7h1.8v1.8h-1.8zM495.6 205.7h1.8v1.8h-1.8zM495.8 216.8h1.8v1.8h-1.8zM496 202.5h1.8v1.8h-1.8zM496.2 200.1h1.8v1.8h-1.8zM496.4 211.2h1.8v1.8h-1.8zM496.6 200.7h1.8v1.8h-1.8zM496.8 202.5h1.8v1.8h-1.8zM497 205h1.8v1.8h-1.8zM497.3 205.6h1.8v1.8h-1.8zM497.5 207.6h1.8v1.8h-1.8zM497.7 199.5h1.8v1.8h-1.8zM497.9 205.6h1.8v1.8h-1.8zM498.1 206.9h1.8v1.8h-1.8zM498.3 204.3h1.8v1.8h-1.8zM498.5 200.6h1.8v1.8h-1.8zM498.7 197.3h1.8v1.8h-1.8zM498.9 194.7h1.8v1.8h-1.8zM499.2 210.4h1.8v1.8h-1.8zM499.4 206.9h1.8v1.8h-1.8zM499.6 208.9h1.8v1.8h-1.8zM499.8 204.9h1.8v1.8h-1.8zM500 208.9h1.8v1.8h-1.8zM500.2 197.8h1.8v1.8h-1.8zM500.4 208.2h1.8v1.8h-1.8zM500.6 210.4h1.8v1.8h-1.8zM500.8 204.9h1.8v1.8h-1.8zM501.1 207.5h1.8v1.8h-1.8zM501.3 201.1h1.8v1.8h-1.8zM501.5 197.7h1.8v1.8h-1.8zM501.7 207.5h1.8v1.8h-1.8zM501.9 208.9h1.8v1.8h-1.8zM502.1 206.1h1.8v1.8h-1.8zM502.3 200.5h1.8v1.8h-1.8zM502.5 208.2h1.8v1.8h-1.8zM502.7 198.8h1.8v1.8h-1.8zM503 196.6h1.8v1.8h-1.8zM503.2 208.1h1.8v1.8h-1.8zM503.4 208.8h1.8v1.8h-1.8zM503.6 203.5h1.8v1.8h-1.8zM503.8 198.2h1.8v1.8h-1.8zM504 194.5h1.8v1.8h-1.8zM504.2 202.3h1.8v1.8h-1.8zM504.4 197.6h1.8v1.8h-1.8zM504.6 211.7h1.8v1.8h-1.8zM504.9 204.1h1.8v1.8h-1.8zM505.1 202.2h1.8v1.8h-1.8zM505.3 211.7h1.8v1.8h-1.8zM505.5 211.7h1.8v1.8h-1.8zM505.7 199.3h1.8v1.8h-1.8zM505.9 202.8h1.8v1.8h-1.8zM506.1 208.7h1.8v1.8h-1.8zM506.3 208h1.8v1.8h-1.8zM506.5 205.3h1.8v1.8h-1.8zM506.7 211.7h1.8v1.8h-1.8zM507 203.4h1.8v1.8h-1.8zM507.2 205.3h1.8v1.8h-1.8zM507.4 211.6h1.8v1.8h-1.8zM507.6 207.3h1.8v1.8h-1.8zM507.8 205.3h1.8v1.8h-1.8zM508 206.6h1.8v1.8h-1.8zM508.2 214.8h1.8v1.8h-1.8zM508.4 200.3h1.8v1.8h-1.8zM508.6 204.6h1.8v1.8h-1.8zM508.9 202.1h1.8v1.8h-1.8zM509.1 203.3h1.8v1.8h-1.8zM509.3 206.6h1.8v1.8h-1.8zM509.5 205.2h1.8v1.8h-1.8zM509.7 205.2h1.8v1.8h-1.8zM509.9 203.3h1.8v1.8h-1.8zM510.1 200.3h1.8v1.8h-1.8zM510.3 208.6h1.8v1.8h-1.8zM510.5 209.3h1.8v1.8h-1.8zM510.8 202.7h1.8v1.8h-1.8zM511 196.9h1.8v1.8h-1.8zM511.2 206.5h1.8v1.8h-1.8zM511.4 201.4h1.8v1.8h-1.8zM511.6 209.3h1.8v1.8h-1.8zM511.8 200.2h1.8v1.8h-1.8zM512 206.5h1.8v1.8h-1.8zM512.2 201.4h1.8v1.8h-1.8zM512.4 206.5h1.8v1.8h-1.8zM512.7 197.4h1.8v1.8h-1.8zM512.9 199.6h1.8v1.8h-1.8zM513.1 208.5h1.8v1.8h-1.8zM513.3 206.4h1.8v1.8h-1.8zM513.5 202h1.8v1.8h-1.8zM513.7 205.8h1.8v1.8h-1.8zM513.9 206.4h1.8v1.8h-1.8zM514.1 216.2h1.8v1.8h-1.8zM514.3 205.1h1.8v1.8h-1.8zM514.6 200.7h1.8v1.8h-1.8zM514.8 203.8h1.8v1.8h-1.8zM515 207.8h1.8v1.8h-1.8zM515.2 201.9h1.8v1.8h-1.8zM515.4 207.8h1.8v1.8h-1.8zM515.6 207.7h1.8v1.8h-1.8zM515.8 198.4h1.8v1.8h-1.8zM516 207h1.8v1.8h-1.8zM516.2 200.7h1.8v1.8h-1.8zM516.5 204.4h1.8v1.8h-1.8zM516.7 215.3h1.8v1.8h-1.8zM516.9 201.9h1.8v1.8h-1.8zM517.1 209.8h1.8v1.8h-1.8zM517.3 207.7h1.8v1.8h-1.8zM517.5 212.1h1.8v1.8h-1.8zM517.7 203.1h1.8v1.8h-1.8zM517.9 200.6h1.8v1.8h-1.8zM518.1 212.9h1.8v1.8h-1.8zM518.4 203h1.8v1.8h-1.8zM518.6 208.4h1.8v1.8h-1.8zM518.8 195.1h1.8v1.8h-1.8zM519 202.4h1.8v1.8h-1.8zM519.2 210.5h1.8v1.8h-1.8zM519.4 212.8h1.8v1.8h-1.8zM519.6 206.3h1.8v1.8h-1.8zM519.8 204.3h1.8v1.8h-1.8zM520 200.6h1.8v1.8h-1.8zM520.2 203.6h1.8v1.8h-1.8zM520.5 205.6h1.8v1.8h-1.8zM520.7 215.2h1.8v1.8h-1.8zM520.9 199.4h1.8v1.8h-1.8zM521.1 211.2h1.8v1.8h-1.8zM521.3 209.7h1.8v1.8h-1.8zM521.5 196h1.8v1.8h-1.8zM521.7 204.2h1.8v1.8h-1.8zM521.9 204.9h1.8v1.8h-1.8zM522.1 206.9h1.8v1.8h-1.8zM522.4 215.2h1.8v1.8h-1.8zM522.6 210.4h1.8v1.8h-1.8zM522.8 211.9h1.8v1.8h-1.8zM523 208.2h1.8v1.8h-1.8zM523.2 212.7h1.8v1.8h-1.8zM523.4 208.2h1.8v1.8h-1.8zM523.6 204.2h1.8v1.8h-1.8zM523.8 202.9h1.8v1.8h-1.8zM524 212.7h1.8v1.8h-1.8zM524.3 204.1h1.8v1.8h-1.8zM524.5 208.9h1.8v1.8h-1.8zM524.7 220.4h1.8v1.8h-1.8zM524.9 208.9h1.8v1.8h-1.8zM525.1 207.5h1.8v1.8h-1.8zM525.3 204.8h1.8v1.8h-1.8zM525.5 205.4h1.8v1.8h-1.8zM525.7 211.1h1.8v1.8h-1.8zM525.9 215.9h1.8v1.8h-1.8zM526.2 204.1h1.8v1.8h-1.8zM526.4 207.4h1.8v1.8h-1.8zM526.6 208.8h1.8v1.8h-1.8zM526.8 203.4h1.8v1.8h-1.8zM527 200.4h1.8v1.8h-1.8zM527.2 208.1h1.8v1.8h-1.8zM527.4 211h1.8v1.8h-1.8zM527.6 204.7h1.8v1.8h-1.8zM527.8 211h1.8v1.8h-1.8zM528.1 204h1.8v1.8h-1.8zM528.3 205.3h1.8v1.8h-1.8zM528.5 206.7h1.8v1.8h-1.8zM528.7 209.5h1.8v1.8h-1.8zM528.9 206.7h1.8v1.8h-1.8zM529.1 206h1.8v1.8h-1.8zM529.3 215.8h1.8v1.8h-1.8zM529.5 217.5h1.8v1.8h-1.8zM529.7 207.3h1.8v1.8h-1.8zM530 209.5h1.8v1.8h-1.8zM530.2 218.4h1.8v1.8h-1.8zM530.4 209.5h1.8v1.8h-1.8zM530.6 206.6h1.8v1.8h-1.8zM530.8 196.9h1.8v1.8h-1.8zM531 205.3h1.8v1.8h-1.8zM531.2 214.1h1.8v1.8h-1.8zM531.4 200.3h1.8v1.8h-1.8zM531.6 205.9h1.8v1.8h-1.8zM531.9 211.7h1.8v1.8h-1.8zM532.1 208h1.8v1.8h-1.8zM532.3 210.2h1.8v1.8h-1.8zM532.5 203.3h1.8v1.8h-1.8zM532.7 202.7h1.8v1.8h-1.8zM532.9 213.2h1.8v1.8h-1.8zM533.1 199.6h1.8v1.8h-1.8zM533.3 208h1.8v1.8h-1.8zM533.5 199.6h1.8v1.8h-1.8zM533.7 205.2h1.8v1.8h-1.8zM534 207.2h1.8v1.8h-1.8zM534.2 212.4h1.8v1.8h-1.8zM534.4 214.8h1.8v1.8h-1.8zM534.6 211.6h1.8v1.8h-1.8zM534.8 211.6h1.8v1.8h-1.8zM535 211.6h1.8v1.8h-1.8zM535.2 199.6h1.8v1.8h-1.8zM535.4 213.2h1.8v1.8h-1.8zM535.6 214h1.8v1.8h-1.8zM535.9 202.6h1.8v1.8h-1.8zM536.1 208.6h1.8v1.8h-1.8zM536.3 210.1h1.8v1.8h-1.8zM536.5 209.3h1.8v1.8h-1.8zM536.7 203.2h1.8v1.8h-1.8zM536.9 214h1.8v1.8h-1.8zM537.1 215.6h1.8v1.8h-1.8zM537.3 210.8h1.8v1.8h-1.8zM537.5 201.3h1.8v1.8h-1.8zM537.8 213.1h1.8v1.8h-1.8zM538 205.8h1.8v1.8h-1.8zM538.2 210h1.8v1.8h-1.8zM538.4 204.4h1.8v1.8h-1.8zM538.6 221h1.8v1.8h-1.8zM538.8 206.4h1.8v1.8h-1.8zM539 211.5h1.8v1.8h-1.8zM539.2 197.2h1.8v1.8h-1.8zM539.4 212.3h1.8v1.8h-1.8zM539.7 207.8h1.8v1.8h-1.8zM539.9 202.5h1.8v1.8h-1.8zM540.1 216.4h1.8v1.8h-1.8zM540.3 220h1.8v1.8h-1.8zM540.5 203.7h1.8v1.8h-1.8zM540.7 210h1.8v1.8h-1.8zM540.9 209.9h1.8v1.8h-1.8zM541.1 205h1.8v1.8h-1.8zM541.3 215.5h1.8v1.8h-1.8zM541.6 207.8h1.8v1.8h-1.8zM541.8 209.2h1.8v1.8h-1.8zM542 213h1.8v1.8h-1.8zM542.2 210.7h1.8v1.8h-1.8zM542.4 202.4h1.8v1.8h-1.8zM542.6 219h1.8v1.8h-1.8zM542.8 201.8h1.8v1.8h-1.8zM543 219.9h1.8v1.8h-1.8zM543.2 212.2h1.8v1.8h-1.8zM543.5 205h1.8v1.8h-1.8zM543.7 209.1h1.8v1.8h-1.8zM543.9 213.8h1.8v1.8h-1.8zM544.1 211.4h1.8v1.8h-1.8zM544.3 201.1h1.8v1.8h-1.8zM544.5 204.9h1.8v1.8h-1.8zM544.7 202.4h1.8v1.8h-1.8zM544.9 218h1.8v1.8h-1.8zM545.1 199.9h1.8v1.8h-1.8zM545.4 210.6h1.8v1.8h-1.8zM545.6 205.6h1.8v1.8h-1.8zM545.8 204.2h1.8v1.8h-1.8zM546 213.7h1.8v1.8h-1.8zM546.2 207.6h1.8v1.8h-1.8zM546.4 201.1h1.8v1.8h-1.8zM546.6 211.3h1.8v1.8h-1.8zM546.8 202.9h1.8v1.8h-1.8zM547 207.6h1.8v1.8h-1.8zM547.2 218h1.8v1.8h-1.8zM547.5 212.1h1.8v1.8h-1.8zM547.7 214.5h1.8v1.8h-1.8zM547.9 207.6h1.8v1.8h-1.8zM548.1 208.3h1.8v1.8h-1.8zM548.3 213.7h1.8v1.8h-1.8zM548.5 201h1.8v1.8h-1.8zM548.7 206.2h1.8v1.8h-1.8zM548.9 208.3h1.8v1.8h-1.8zM549.1 200.4h1.8v1.8h-1.8zM549.4 208.3h1.8v1.8h-1.8zM549.6 218.8h1.8v1.8h-1.8zM549.8 206.2h1.8v1.8h-1.8zM550 205.5h1.8v1.8h-1.8zM550.2 213.6h1.8v1.8h-1.8zM550.4 207.5h1.8v1.8h-1.8zM550.6 216.1h1.8v1.8h-1.8zM550.8 211.2h1.8v1.8h-1.8zM551 211.2h1.8v1.8h-1.8zM551.3 210.5h1.8v1.8h-1.8zM551.5 208.2h1.8v1.8h-1.8zM551.7 216.1h1.8v1.8h-1.8zM551.9 211.2h1.8v1.8h-1.8zM552.1 213.6h1.8v1.8h-1.8zM552.3 216.1h1.8v1.8h-1.8zM552.5 210.4h1.8v1.8h-1.8zM552.7 202.2h1.8v1.8h-1.8zM552.9 212h1.8v1.8h-1.8zM553.2 208.9h1.8v1.8h-1.8zM553.4 214.4h1.8v1.8h-1.8zM553.6 209.7h1.8v1.8h-1.8zM553.8 213.6h1.8v1.8h-1.8zM554 206.1h1.8v1.8h-1.8zM554.2 209.6h1.8v1.8h-1.8zM554.4 216.9h1.8v1.8h-1.8zM554.6 212.7h1.8v1.8h-1.8zM554.8 213.5h1.8v1.8h-1.8zM555.1 217.8h1.8v1.8h-1.8zM555.3 221.6h1.8v1.8h-1.8zM555.5 206.7h1.8v1.8h-1.8zM555.7 209.6h1.8v1.8h-1.8zM555.9 202.1h1.8v1.8h-1.8zM556.1 220.6h1.8v1.8h-1.8zM556.3 206h1.8v1.8h-1.8zM556.5 213.5h1.8v1.8h-1.8zM556.7 208.1h1.8v1.8h-1.8zM557 213.5h1.8v1.8h-1.8zM557.2 211.1h1.8v1.8h-1.8zM557.4 209.6h1.8v1.8h-1.8zM557.6 213.5h1.8v1.8h-1.8zM557.8 206h1.8v1.8h-1.8zM558 212.7h1.8v1.8h-1.8zM558.2 214.3h1.8v1.8h-1.8zM558.4 207.4h1.8v1.8h-1.8zM558.6 213.5h1.8v1.8h-1.8zM558.9 214.3h1.8v1.8h-1.8zM559.1 197.3h1.8v1.8h-1.8zM559.3 214.3h1.8v1.8h-1.8zM559.5 211.1h1.8v1.8h-1.8zM559.7 206h1.8v1.8h-1.8zM559.9 200.2h1.8v1.8h-1.8zM560.1 202.7h1.8v1.8h-1.8zM560.3 219.6h1.8v1.8h-1.8zM560.5 203.9h1.8v1.8h-1.8zM560.7 212.6h1.8v1.8h-1.8zM561 202.6h1.8v1.8h-1.8zM561.2 221.5h1.8v1.8h-1.8zM561.4 202.6h1.8v1.8h-1.8zM561.6 210.2h1.8v1.8h-1.8zM561.8 206.6h1.8v1.8h-1.8zM562 213.4h1.8v1.8h-1.8zM562.2 208h1.8v1.8h-1.8zM562.4 214.2h1.8v1.8h-1.8zM562.6 220.5h1.8v1.8h-1.8zM562.9 211.8h1.8v1.8h-1.8zM563.1 211h1.8v1.8h-1.8zM563.3 211h1.8v1.8h-1.8zM563.5 215.9h1.8v1.8h-1.8zM563.7 205.2h1.8v1.8h-1.8zM563.9 213.3h1.8v1.8h-1.8zM564.1 201.9h1.8v1.8h-1.8zM564.3 217.6h1.8v1.8h-1.8zM564.5 204.5h1.8v1.8h-1.8zM564.8 207.3h1.8v1.8h-1.8zM565 216.7h1.8v1.8h-1.8zM565.2 200.7h1.8v1.8h-1.8zM565.4 205.2h1.8v1.8h-1.8zM565.6 227.8h1.8v1.8h-1.8zM565.8 206.5h1.8v1.8h-1.8zM566 205.8h1.8v1.8h-1.8zM566.2 205.8h1.8v1.8h-1.8zM566.4 207.9h1.8v1.8h-1.8zM566.7 212.5h1.8v1.8h-1.8zM566.9 215h1.8v1.8h-1.8zM567.1 206.5h1.8v1.8h-1.8zM567.3 214.9h1.8v1.8h-1.8zM567.5 212.5h1.8v1.8h-1.8zM567.7 202.5h1.8v1.8h-1.8zM567.9 221.3h1.8v1.8h-1.8zM568.1 211.7h1.8v1.8h-1.8zM568.3 206.5h1.8v1.8h-1.8zM568.6 205.8h1.8v1.8h-1.8zM568.8 208.6h1.8v1.8h-1.8zM569 211.6h1.8v1.8h-1.8zM569.2 212.4h1.8v1.8h-1.8zM569.4 201.8h1.8v1.8h-1.8zM569.6 208.6h1.8v1.8h-1.8zM569.8 218.4h1.8v1.8h-1.8zM570 214.1h1.8v1.8h-1.8zM570.2 205.1h1.8v1.8h-1.8zM570.5 206.4h1.8v1.8h-1.8zM570.7 215.7h1.8v1.8h-1.8zM570.9 207.8h1.8v1.8h-1.8zM571.1 202.4h1.8v1.8h-1.8zM571.3 217.5h1.8v1.8h-1.8zM571.5 208.6h1.8v1.8h-1.8zM571.7 213.2h1.8v1.8h-1.8zM571.9 210.8h1.8v1.8h-1.8zM572.1 214.9h1.8v1.8h-1.8zM572.4 205h1.8v1.8h-1.8zM572.6 219.3h1.8v1.8h-1.8zM572.8 212.4h1.8v1.8h-1.8zM573 207.1h1.8v1.8h-1.8zM573.2 212.4h1.8v1.8h-1.8zM573.4 210h1.8v1.8h-1.8zM573.6 213.2h1.8v1.8h-1.8zM573.8 206.4h1.8v1.8h-1.8zM574 210.8h1.8v1.8h-1.8zM574.2 215.7h1.8v1.8h-1.8zM574.5 205.7h1.8v1.8h-1.8zM574.7 213.1h1.8v1.8h-1.8zM574.9 215.7h1.8v1.8h-1.8zM575.1 210h1.8v1.8h-1.8zM575.3 218.3h1.8v1.8h-1.8zM575.5 213.9h1.8v1.8h-1.8zM575.7 209.2h1.8v1.8h-1.8zM575.9 215.6h1.8v1.8h-1.8zM576.1 211.5h1.8v1.8h-1.8zM576.4 217.4h1.8v1.8h-1.8zM576.6 207.7h1.8v1.8h-1.8zM576.8 208.4h1.8v1.8h-1.8zM577 223.2h1.8v1.8h-1.8zM577.2 220.2h1.8v1.8h-1.8zM577.4 207.7h1.8v1.8h-1.8zM577.6 206.3h1.8v1.8h-1.8zM577.8 211.4h1.8v1.8h-1.8zM578 213.9h1.8v1.8h-1.8zM578.3 223.1h1.8v1.8h-1.8zM578.5 209.1h1.8v1.8h-1.8zM578.7 210.6h1.8v1.8h-1.8zM578.9 208.4h1.8v1.8h-1.8zM579.1 206.9h1.8v1.8h-1.8zM579.3 214.7h1.8v1.8h-1.8zM579.5 201.6h1.8v1.8h-1.8zM579.7 212.2h1.8v1.8h-1.8zM579.9 209.1h1.8v1.8h-1.8zM580.2 204.2h1.8v1.8h-1.8zM580.4 205.5h1.8v1.8h-1.8zM580.6 211.4h1.8v1.8h-1.8zM580.8 206.2h1.8v1.8h-1.8zM581 233.6h1.8v1.8h-1.8zM581.2 210.6h1.8v1.8h-1.8zM581.4 211.4h1.8v1.8h-1.8zM581.6 209.8h1.8v1.8h-1.8zM581.8 204.8h1.8v1.8h-1.8zM582.1 213.8h1.8v1.8h-1.8zM582.3 202.2h1.8v1.8h-1.8zM582.5 220h1.8v1.8h-1.8zM582.7 216.3h1.8v1.8h-1.8zM582.9 212.1h1.8v1.8h-1.8zM583.1 215.4h1.8v1.8h-1.8zM583.3 206.1h1.8v1.8h-1.8zM583.5 211.3h1.8v1.8h-1.8zM583.7 209h1.8v1.8h-1.8zM584 214.6h1.8v1.8h-1.8zM584.2 213.7h1.8v1.8h-1.8zM584.4 209h1.8v1.8h-1.8zM584.6 218.1h1.8v1.8h-1.8zM584.8 211.3h1.8v1.8h-1.8zM585 205.4h1.8v1.8h-1.8zM585.2 206.8h1.8v1.8h-1.8zM585.4 212.9h1.8v1.8h-1.8zM585.6 209.7h1.8v1.8h-1.8zM585.9 216.3h1.8v1.8h-1.8zM586.1 216.2h1.8v1.8h-1.8zM586.3 209.7h1.8v1.8h-1.8zM586.5 213.7h1.8v1.8h-1.8zM586.7 208.2h1.8v1.8h-1.8zM586.9 205.3h1.8v1.8h-1.8zM587.1 217.1h1.8v1.8h-1.8zM587.3 212.8h1.8v1.8h-1.8zM587.5 210.4h1.8v1.8h-1.8zM587.7 219.9h1.8v1.8h-1.8zM588 209.6h1.8v1.8h-1.8zM588.2 216.2h1.8v1.8h-1.8zM588.4 212h1.8v1.8h-1.8zM588.6 217.1h1.8v1.8h-1.8zM588.8 207.4h1.8v1.8h-1.8zM589 220.9h1.8v1.8h-1.8zM589.2 213.6h1.8v1.8h-1.8zM589.4 206.7h1.8v1.8h-1.8zM589.6 212.8h1.8v1.8h-1.8zM589.9 211.9h1.8v1.8h-1.8zM590.1 206h1.8v1.8h-1.8zM590.3 206h1.8v1.8h-1.8zM590.5 210.4h1.8v1.8h-1.8zM590.7 206.6h1.8v1.8h-1.8zM590.9 215.3h1.8v1.8h-1.8zM591.1 219.8h1.8v1.8h-1.8zM591.3 219.8h1.8v1.8h-1.8zM591.5 208.8h1.8v1.8h-1.8zM591.8 217h1.8v1.8h-1.8zM592 212.7h1.8v1.8h-1.8zM592.2 205.9h1.8v1.8h-1.8zM592.4 208h1.8v1.8h-1.8zM592.6 215.2h1.8v1.8h-1.8zM592.8 212.7h1.8v1.8h-1.8zM593 212.7h1.8v1.8h-1.8zM593.2 210.3h1.8v1.8h-1.8zM593.4 210.3h1.8v1.8h-1.8zM593.7 210.3h1.8v1.8h-1.8zM593.9 213.5h1.8v1.8h-1.8zM594.1 219.7h1.8v1.8h-1.8zM594.3 209.5h1.8v1.8h-1.8zM594.5 204.5h1.8v1.8h-1.8zM594.7 207.3h1.8v1.8h-1.8zM594.9 213.5h1.8v1.8h-1.8zM595.1 210.2h1.8v1.8h-1.8zM595.3 209.5h1.8v1.8h-1.8zM595.6 221.7h1.8v1.8h-1.8zM595.8 208h1.8v1.8h-1.8zM596 231.9h1.8v1.8h-1.8zM596.2 209.4h1.8v1.8h-1.8zM596.4 215.1h1.8v1.8h-1.8zM596.6 215.1h1.8v1.8h-1.8zM596.8 215.1h1.8v1.8h-1.8zM597 216h1.8v1.8h-1.8zM597.2 211.8h1.8v1.8h-1.8zM597.5 210.2h1.8v1.8h-1.8zM597.7 203.7h1.8v1.8h-1.8zM597.9 220.6h1.8v1.8h-1.8zM598.1 215.9h1.8v1.8h-1.8zM598.3 213.4h1.8v1.8h-1.8zM598.5 220.6h1.8v1.8h-1.8zM598.7 215.1h1.8v1.8h-1.8zM598.9 215.9h1.8v1.8h-1.8zM599.1 215.9h1.8v1.8h-1.8zM599.4 210.1h1.8v1.8h-1.8zM599.6 210.1h1.8v1.8h-1.8zM599.8 212.5h1.8v1.8h-1.8zM600 219.6h1.8v1.8h-1.8zM600.2 210.1h1.8v1.8h-1.8zM600.4 219.6h1.8v1.8h-1.8zM600.6 219.6h1.8v1.8h-1.8zM600.8 212.5h1.8v1.8h-1.8zM601 216.8h1.8v1.8h-1.8zM601.2 213.3h1.8v1.8h-1.8zM601.5 203.6h1.8v1.8h-1.8zM601.7 205.7h1.8v1.8h-1.8zM601.9 209.3h1.8v1.8h-1.8zM602.1 215h1.8v1.8h-1.8zM602.3 213.3h1.8v1.8h-1.8zM602.5 210.8h1.8v1.8h-1.8zM602.7 219.5h1.8v1.8h-1.8zM602.9 207.8h1.8v1.8h-1.8zM603.1 216.7h1.8v1.8h-1.8zM603.4 213.2h1.8v1.8h-1.8zM603.6 214.1h1.8v1.8h-1.8zM603.8 220.5h1.8v1.8h-1.8zM604 224.6h1.8v1.8h-1.8zM604.2 217.6h1.8v1.8h-1.8zM604.4 222.5h1.8v1.8h-1.8zM604.6 216.7h1.8v1.8h-1.8zM604.8 208.4h1.8v1.8h-1.8zM605 210.7h1.8v1.8h-1.8zM605.3 214.9h1.8v1.8h-1.8zM605.5 216.6h1.8v1.8h-1.8zM605.7 213.1h1.8v1.8h-1.8zM605.9 218.5h1.8v1.8h-1.8zM606.1 216.6h1.8v1.8h-1.8zM606.3 220.4h1.8v1.8h-1.8zM606.5 215.7h1.8v1.8h-1.8zM606.7 219.4h1.8v1.8h-1.8zM606.9 214h1.8v1.8h-1.8zM607.2 215.7h1.8v1.8h-1.8zM607.4 211.5h1.8v1.8h-1.8zM607.6 202.1h1.8v1.8h-1.8zM607.8 223.4h1.8v1.8h-1.8zM608 219.4h1.8v1.8h-1.8zM608.2 222.4h1.8v1.8h-1.8zM608.4 213.1h1.8v1.8h-1.8zM608.6 210.6h1.8v1.8h-1.8zM608.8 218.4h1.8v1.8h-1.8zM609.1 213.9h1.8v1.8h-1.8zM609.3 220.3h1.8v1.8h-1.8zM609.5 213.9h1.8v1.8h-1.8zM609.7 212.2h1.8v1.8h-1.8zM609.9 207.6h1.8v1.8h-1.8zM610.1 221.3h1.8v1.8h-1.8zM610.3 224.4h1.8v1.8h-1.8zM610.5 210.6h1.8v1.8h-1.8zM610.7 213.8h1.8v1.8h-1.8zM611 204.7h1.8v1.8h-1.8zM611.2 218.3h1.8v1.8h-1.8zM611.4 224.4h1.8v1.8h-1.8zM611.6 218.3h1.8v1.8h-1.8zM611.8 235.5h1.8v1.8h-1.8zM612 218.3h1.8v1.8h-1.8zM612.2 213h1.8v1.8h-1.8zM612.4 213.8h1.8v1.8h-1.8zM612.6 216.4h1.8v1.8h-1.8zM612.9 216.4h1.8v1.8h-1.8zM613.1 213.8h1.8v1.8h-1.8zM613.3 212.9h1.8v1.8h-1.8zM613.5 208.2h1.8v1.8h-1.8zM613.7 212.9h1.8v1.8h-1.8zM613.9 217.3h1.8v1.8h-1.8zM614.1 203.9h1.8v1.8h-1.8zM614.3 212.9h1.8v1.8h-1.8zM614.5 217.3h1.8v1.8h-1.8zM614.7 214.6h1.8v1.8h-1.8zM615 211.2h1.8v1.8h-1.8zM615.2 216.3h1.8v1.8h-1.8zM615.4 214.6h1.8v1.8h-1.8zM615.6 204.5h1.8v1.8h-1.8zM615.8 222.1h1.8v1.8h-1.8zM616 219.1h1.8v1.8h-1.8zM616.2 212.8h1.8v1.8h-1.8zM616.4 208.9h1.8v1.8h-1.8zM616.6 206.6h1.8v1.8h-1.8zM616.9 212h1.8v1.8h-1.8zM617.1 205.2h1.8v1.8h-1.8zM617.3 226.4h1.8v1.8h-1.8zM617.5 220h1.8v1.8h-1.8zM617.7 205.2h1.8v1.8h-1.8zM617.9 218.1h1.8v1.8h-1.8zM618.1 220h1.8v1.8h-1.8zM618.3 220h1.8v1.8h-1.8zM618.5 216.2h1.8v1.8h-1.8zM618.8 205.1h1.8v1.8h-1.8zM619 215.3h1.8v1.8h-1.8zM619.2 209.5h1.8v1.8h-1.8zM619.4 218.1h1.8v1.8h-1.8zM619.6 219h1.8v1.8h-1.8zM619.8 214.4h1.8v1.8h-1.8zM620 220h1.8v1.8h-1.8zM620.2 219h1.8v1.8h-1.8zM620.4 213.5h1.8v1.8h-1.8zM620.7 215.3h1.8v1.8h-1.8zM620.9 213.5h1.8v1.8h-1.8zM621.1 215.3h1.8v1.8h-1.8zM621.3 220.9h1.8v1.8h-1.8zM621.5 231.2h1.8v1.8h-1.8zM621.7 211.8h1.8v1.8h-1.8zM621.9 223h1.8v1.8h-1.8zM622.1 223h1.8v1.8h-1.8zM622.3 211.8h1.8v1.8h-1.8zM622.6 216.1h1.8v1.8h-1.8zM622.8 218.9h1.8v1.8h-1.8zM623 215.2h1.8v1.8h-1.8zM623.2 219.9h1.8v1.8h-1.8zM623.4 225.1h1.8v1.8h-1.8zM623.6 219.9h1.8v1.8h-1.8zM623.8 217.9h1.8v1.8h-1.8zM624 217h1.8v1.8h-1.8zM624.2 216.1h1.8v1.8h-1.8zM624.5 219.8h1.8v1.8h-1.8zM624.7 212.6h1.8v1.8h-1.8zM624.9 228.6h1.8v1.8h-1.8zM625.1 216h1.8v1.8h-1.8zM625.3 211.7h1.8v1.8h-1.8zM625.5 212.6h1.8v1.8h-1.8zM625.7 218.8h1.8v1.8h-1.8zM625.9 225.1h1.8v1.8h-1.8zM626.1 225.1h1.8v1.8h-1.8zM626.4 213.4h1.8v1.8h-1.8zM626.6 207.1h1.8v1.8h-1.8zM626.8 211.7h1.8v1.8h-1.8zM627 223.9h1.8v1.8h-1.8zM627.2 226.2h1.8v1.8h-1.8zM627.4 209.3h1.8v1.8h-1.8zM627.6 213.4h1.8v1.8h-1.8zM627.8 221.8h1.8v1.8h-1.8zM628 216.9h1.8v1.8h-1.8zM628.2 222.8h1.8v1.8h-1.8zM628.5 207.8h1.8v1.8h-1.8zM628.7 226.1h1.8v1.8h-1.8zM628.9 216.9h1.8v1.8h-1.8zM629.1 213.3h1.8v1.8h-1.8zM629.3 214.2h1.8v1.8h-1.8zM629.5 213.3h1.8v1.8h-1.8zM629.7 220.7h1.8v1.8h-1.8zM629.9 213.3h1.8v1.8h-1.8zM630.1 214.2h1.8v1.8h-1.8zM630.4 222.8h1.8v1.8h-1.8zM630.6 218.7h1.8v1.8h-1.8zM630.8 220.7h1.8v1.8h-1.8zM631 209.2h1.8v1.8h-1.8zM631.2 211.6h1.8v1.8h-1.8zM631.4 228.5h1.8v1.8h-1.8zM631.6 226.1h1.8v1.8h-1.8zM631.8 237.9h1.8v1.8h-1.8zM632 215h1.8v1.8h-1.8zM632.3 223.8h1.8v1.8h-1.8zM632.5 227.2h1.8v1.8h-1.8zM632.7 222.8h1.8v1.8h-1.8zM632.9 218.7h1.8v1.8h-1.8zM633.1 216.8h1.8v1.8h-1.8zM633.3 227.2h1.8v1.8h-1.8zM633.5 232.2h1.8v1.8h-1.8zM633.7 223.8h1.8v1.8h-1.8zM633.9 215.9h1.8v1.8h-1.8zM634.2 227.2h1.8v1.8h-1.8zM634.4 217.7h1.8v1.8h-1.8zM634.6 227.2h1.8v1.8h-1.8zM634.8 216.8h1.8v1.8h-1.8zM635 216.8h1.8v1.8h-1.8zM635.2 215h1.8v1.8h-1.8zM635.4 210.7h1.8v1.8h-1.8zM635.6 219.6h1.8v1.8h-1.8zM635.8 209.9h1.8v1.8h-1.8zM636.1 217.7h1.8v1.8h-1.8zM636.3 228.4h1.8v1.8h-1.8zM636.5 212.3h1.8v1.8h-1.8zM636.7 221.6h1.8v1.8h-1.8zM636.9 229.6h1.8v1.8h-1.8zM637.1 209.9h1.8v1.8h-1.8zM637.3 209.9h1.8v1.8h-1.8zM637.5 217.6h1.8v1.8h-1.8zM637.7 211.5h1.8v1.8h-1.8zM638 213.2h1.8v1.8h-1.8zM638.2 215.8h1.8v1.8h-1.8zM638.4 213.2h1.8v1.8h-1.8zM638.6 214.9h1.8v1.8h-1.8zM638.8 228.3h1.8v1.8h-1.8zM639 214.9h1.8v1.8h-1.8zM639.2 214.9h1.8v1.8h-1.8zM639.4 223.7h1.8v1.8h-1.8zM639.6 221.6h1.8v1.8h-1.8zM639.9 216.7h1.8v1.8h-1.8zM640.1 217.6h1.8v1.8h-1.8zM640.3 224.8h1.8v1.8h-1.8zM640.5 204h1.8v1.8h-1.8zM640.7 214.8h1.8v1.8h-1.8zM640.9 218.5h1.8v1.8h-1.8zM641.1 216.6h1.8v1.8h-1.8zM641.3 216.6h1.8v1.8h-1.8zM641.5 218.5h1.8v1.8h-1.8zM641.7 209h1.8v1.8h-1.8zM642 221.5h1.8v1.8h-1.8zM642.2 213.1h1.8v1.8h-1.8zM642.4 215.7h1.8v1.8h-1.8zM642.6 218.5h1.8v1.8h-1.8zM642.8 220.5h1.8v1.8h-1.8zM643 228.2h1.8v1.8h-1.8zM643.2 217.5h1.8v1.8h-1.8zM643.4 221.5h1.8v1.8h-1.8zM643.6 232h1.8v1.8h-1.8zM643.9 212.2h1.8v1.8h-1.8zM644.1 214.8h1.8v1.8h-1.8zM644.3 217.5h1.8v1.8h-1.8zM644.5 211.4h1.8v1.8h-1.8zM644.7 218.5h1.8v1.8h-1.8zM644.9 219.4h1.8v1.8h-1.8zM645.1 224.7h1.8v1.8h-1.8zM645.3 212.2h1.8v1.8h-1.8zM645.5 225.8h1.8v1.8h-1.8zM645.8 224.7h1.8v1.8h-1.8zM646 213h1.8v1.8h-1.8zM646.2 217.5h1.8v1.8h-1.8zM646.4 228.2h1.8v1.8h-1.8zM646.6 224.7h1.8v1.8h-1.8zM646.8 218.4h1.8v1.8h-1.8zM647 208.2h1.8v1.8h-1.8zM647.2 213h1.8v1.8h-1.8zM647.4 218.4h1.8v1.8h-1.8zM647.7 217.4h1.8v1.8h-1.8zM647.9 219.4h1.8v1.8h-1.8zM648.1 226.9h1.8v1.8h-1.8zM648.3 212.1h1.8v1.8h-1.8zM648.5 220.4h1.8v1.8h-1.8zM648.7 210.5h1.8v1.8h-1.8zM648.9 213.8h1.8v1.8h-1.8zM649.1 209.7h1.8v1.8h-1.8zM649.3 217.4h1.8v1.8h-1.8zM649.6 216.5h1.8v1.8h-1.8zM649.8 221.4h1.8v1.8h-1.8zM650 215.6h1.8v1.8h-1.8zM650.2 230.6h1.8v1.8h-1.8zM650.4 223.5h1.8v1.8h-1.8zM650.6 217.4h1.8v1.8h-1.8zM650.8 240.7h1.8v1.8h-1.8zM651 220.3h1.8v1.8h-1.8zM651.2 219.3h1.8v1.8h-1.8zM651.5 223.5h1.8v1.8h-1.8zM651.7 225.7h1.8v1.8h-1.8zM651.9 216.4h1.8v1.8h-1.8zM652.1 216.4h1.8v1.8h-1.8zM652.3 213.7h1.8v1.8h-1.8zM652.5 226.9h1.8v1.8h-1.8zM652.7 220.3h1.8v1.8h-1.8zM652.9 214.6h1.8v1.8h-1.8zM653.1 214.6h1.8v1.8h-1.8zM653.4 216.4h1.8v1.8h-1.8zM653.6 214.6h1.8v1.8h-1.8zM653.8 219.3h1.8v1.8h-1.8zM654 200.4h1.8v1.8h-1.8zM654.2 226.8h1.8v1.8h-1.8zM654.4 223.4h1.8v1.8h-1.8zM654.6 215.5h1.8v1.8h-1.8zM654.8 223.4h1.8v1.8h-1.8zM655 223.4h1.8v1.8h-1.8zM655.2 219.3h1.8v1.8h-1.8zM655.5 225.6h1.8v1.8h-1.8zM655.7 212h1.8v1.8h-1.8zM655.9 214.6h1.8v1.8h-1.8zM656.1 223.4h1.8v1.8h-1.8zM656.3 221.3h1.8v1.8h-1.8zM656.5 219.2h1.8v1.8h-1.8zM656.7 221.3h1.8v1.8h-1.8zM656.9 221.3h1.8v1.8h-1.8zM657.1 224.5h1.8v1.8h-1.8zM657.4 211.1h1.8v1.8h-1.8zM657.6 221.2h1.8v1.8h-1.8zM657.8 222.3h1.8v1.8h-1.8zM658 215.4h1.8v1.8h-1.8zM658.2 225.6h1.8v1.8h-1.8zM658.4 236h1.8v1.8h-1.8zM658.6 234.5h1.8v1.8h-1.8zM658.8 219.2h1.8v1.8h-1.8zM659 226.8h1.8v1.8h-1.8zM659.3 219.2h1.8v1.8h-1.8zM659.5 211.9h1.8v1.8h-1.8zM659.7 207.2h1.8v1.8h-1.8zM659.9 214.5h1.8v1.8h-1.8zM660.1 212.8h1.8v1.8h-1.8zM660.3 223.3h1.8v1.8h-1.8zM660.5 218.2h1.8v1.8h-1.8zM660.7 221.2h1.8v1.8h-1.8zM660.9 205.7h1.8v1.8h-1.8zM661.2 226.7h1.8v1.8h-1.8zM661.4 219.2h1.8v1.8h-1.8zM661.6 213.6h1.8v1.8h-1.8zM661.8 221.2h1.8v1.8h-1.8zM662 226.7h1.8v1.8h-1.8zM662.2 213.6h1.8v1.8h-1.8zM662.4 226.7h1.8v1.8h-1.8zM662.6 225.5h1.8v1.8h-1.8zM662.8 227.9h1.8v1.8h-1.8zM663.1 219.1h1.8v1.8h-1.8zM663.3 222.2h1.8v1.8h-1.8zM663.5 234.4h1.8v1.8h-1.8zM663.7 217.2h1.8v1.8h-1.8zM663.9 213.6h1.8v1.8h-1.8zM664.1 216.3h1.8v1.8h-1.8zM664.3 217.2h1.8v1.8h-1.8zM664.5 220.1h1.8v1.8h-1.8zM664.7 224.4h1.8v1.8h-1.8zM665 229.1h1.8v1.8h-1.8zM665.2 227.9h1.8v1.8h-1.8zM665.4 227.9h1.8v1.8h-1.8zM665.6 217.2h1.8v1.8h-1.8zM665.8 214.4h1.8v1.8h-1.8zM666 217.2h1.8v1.8h-1.8zM666.2 220.1h1.8v1.8h-1.8zM666.4 218.1h1.8v1.8h-1.8zM666.6 219.1h1.8v1.8h-1.8zM666.9 220.1h1.8v1.8h-1.8zM667.1 213.5h1.8v1.8h-1.8zM667.3 213.5h1.8v1.8h-1.8zM667.5 237.3h1.8v1.8h-1.8zM667.7 234.4h1.8v1.8h-1.8zM667.9 219.1h1.8v1.8h-1.8zM668.1 219.1h1.8v1.8h-1.8zM668.3 222.1h1.8v1.8h-1.8zM668.5 225.4h1.8v1.8h-1.8zM668.7 224.3h1.8v1.8h-1.8zM669 207.1h1.8v1.8h-1.8zM669.2 216.2h1.8v1.8h-1.8zM669.4 224.3h1.8v1.8h-1.8zM669.6 242.1h1.8v1.8h-1.8zM669.8 217.1h1.8v1.8h-1.8zM670 222.1h1.8v1.8h-1.8zM670.2 217.1h1.8v1.8h-1.8zM670.4 211h1.8v1.8h-1.8zM670.6 208.6h1.8v1.8h-1.8zM670.9 222.1h1.8v1.8h-1.8zM671.1 229h1.8v1.8h-1.8zM671.3 219h1.8v1.8h-1.8zM671.5 225.4h1.8v1.8h-1.8zM671.7 220h1.8v1.8h-1.8zM671.9 215.2h1.8v1.8h-1.8zM672.1 219h1.8v1.8h-1.8zM672.3 215.2h1.8v1.8h-1.8zM672.5 205.6h1.8v1.8h-1.8zM672.8 216.1h1.8v1.8h-1.8zM673 219h1.8v1.8h-1.8zM673.2 226.5h1.8v1.8h-1.8zM673.4 219h1.8v1.8h-1.8zM673.6 222.1h1.8v1.8h-1.8zM673.8 216.1h1.8v1.8h-1.8zM674 221h1.8v1.8h-1.8zM674.2 210.9h1.8v1.8h-1.8zM674.4 218h1.8v1.8h-1.8zM674.7 205.5h1.8v1.8h-1.8zM674.9 220h1.8v1.8h-1.8zM675.1 221h1.8v1.8h-1.8zM675.3 217h1.8v1.8h-1.8zM675.5 215.2h1.8v1.8h-1.8zM675.7 222h1.8v1.8h-1.8zM675.9 216.1h1.8v1.8h-1.8zM676.1 214.3h1.8v1.8h-1.8zM676.3 218h1.8v1.8h-1.8zM676.6 224.2h1.8v1.8h-1.8zM676.8 216.1h1.8v1.8h-1.8zM677 217h1.8v1.8h-1.8zM677.2 226.5h1.8v1.8h-1.8zM677.4 222h1.8v1.8h-1.8zM677.6 238.7h1.8v1.8h-1.8zM677.8 213.3h1.8v1.8h-1.8zM678 211.6h1.8v1.8h-1.8zM678.2 228.9h1.8v1.8h-1.8zM678.5 217.9h1.8v1.8h-1.8zM678.7 223h1.8v1.8h-1.8zM678.9 220.9h1.8v1.8h-1.8zM679.1 220.9h1.8v1.8h-1.8zM679.3 216.9h1.8v1.8h-1.8zM679.5 214.2h1.8v1.8h-1.8zM679.7 220.9h1.8v1.8h-1.8zM679.9 226.4h1.8v1.8h-1.8zM680.1 215.1h1.8v1.8h-1.8zM680.4 216h1.8v1.8h-1.8zM680.6 224.1h1.8v1.8h-1.8zM680.8 223h1.8v1.8h-1.8zM681 220.9h1.8v1.8h-1.8zM681.2 220.9h1.8v1.8h-1.8zM681.4 223h1.8v1.8h-1.8zM681.6 212.4h1.8v1.8h-1.8zM681.8 226.4h1.8v1.8h-1.8zM682 220.8h1.8v1.8h-1.8zM682.2 217.8h1.8v1.8h-1.8zM682.5 230.1h1.8v1.8h-1.8zM682.7 235.5h1.8v1.8h-1.8zM682.9 221.9h1.8v1.8h-1.8zM683.1 231.3h1.8v1.8h-1.8zM683.3 220.8h1.8v1.8h-1.8zM683.5 224h1.8v1.8h-1.8zM683.7 221.8h1.8v1.8h-1.8zM683.9 210.7h1.8v1.8h-1.8zM684.1 215.9h1.8v1.8h-1.8zM684.4 228.7h1.8v1.8h-1.8zM684.6 225.1h1.8v1.8h-1.8zM684.8 221.8h1.8v1.8h-1.8zM685 220.8h1.8v1.8h-1.8zM685.2 222.9h1.8v1.8h-1.8zM685.4 225.1h1.8v1.8h-1.8zM685.6 225.1h1.8v1.8h-1.8zM685.8 228.7h1.8v1.8h-1.8zM686 220.7h1.8v1.8h-1.8zM686.3 216.8h1.8v1.8h-1.8zM686.5 225.1h1.8v1.8h-1.8zM686.7 220.7h1.8v1.8h-1.8zM686.9 232.6h1.8v1.8h-1.8zM687.1 226.3h1.8v1.8h-1.8zM213.1 87.2h1.8v1.8h-1.8zM213.3 90.9h1.8v1.8h-1.8zM213.3 95.4h1.8v1.8h-1.8zM213.3 99h1.8v1.8h-1.8zM214.1 107.1h1.8v1.8h-1.8zM212.6 111.3h1.8v1.8h-1.8zM214.1 116.7h1.8v1.8h-1.8zM213.1 125.2h1.8v1.8h-1.8zM214.1 127.9h1.8v1.8h-1.8zM212.8 133h1.8v1.8h-1.8zM214.1 137.3h1.8v1.8h-1.8zM213.3 141.5h1.8v1.8h-1.8zM214.2 142.8h1.8v1.8h-1.8zM214.4 146.6h1.8v1.8h-1.8zM95.1 106.3h1.8v1.8h-1.8zM95.1 111.9h1.8v1.8h-1.8zM95.3 112.9h1.8v1.8h-1.8zM95.1 120h1.8v1.8h-1.8zM101.6 119.1h1.8v1.8h-1.8zM101.6 122.4h1.8v1.8h-1.8zM113.6 107.2h1.8v1.8h-1.8zM113.6 110.7h1.8v1.8h-1.8zM113.7 111.7h1.8v1.8h-1.8zM113.6 114.2h1.8v1.8h-1.8zM113.6 118.3h1.8v1.8h-1.8zM110.1 120.6h1.8v1.8h-1.8zM112.1 130.5h1.8v1.8h-1.8zM85.8 117.1h1.8v1.8h-1.8zM85.8 120.1h1.8v1.8h-1.8zM145.1 125.6h1.8v1.8h-1.8zM145.1 129.6h1.8v1.8h-1.8zM162.8 126.4h1.8v1.8h-1.8zM162.9 128.8h1.8v1.8h-1.8zM162.8 135.7h1.8v1.8h-1.8zM196.1 143.1h1.8v1.8h-1.8zM231.2 142.9h1.8v1.8h-1.8zM231.4 146.6h1.8v1.8h-1.8zM244.1 133.8h1.8v1.8h-1.8zM244.3 136.6h1.8v1.8h-1.8zM243.9 139.1h1.8v1.8h-1.8zM263.6 150.9h1.8v1.8h-1.8zM263.6 154.4h1.8v1.8h-1.8zM263.8 156.4h1.8v1.8h-1.8zM270.6 156.1h1.8v1.8h-1.8zM295.4 164.8h1.8v1.8h-1.8zM296.3 164.8h1.8v1.8h-1.8zM306 153.6h1.8v1.8h-1.8zM306 157.1h1.8v1.8h-1.8zM306 160.5h1.8v1.8h-1.8zM317.6 162.5h1.8v1.8h-1.8zM356.1 162.6h1.8v1.8h-1.8zM356.1 166.1h1.8v1.8h-1.8zM356.3 172.6h1.8v1.8h-1.8zM356.1 202.1h1.8v1.8h-1.8zM372.1 199.1h1.8v1.8h-1.8zM362.1 193.1h1.8v1.8h-1.8zM364.1 193.1h1.8v1.8h-1.8zM406.6 177.1h1.8v1.8h-1.8zM406.8 180.1h1.8v1.8h-1.8zM473.1 187.1h1.8v1.8h-1.8zM473.1 189.1h1.8v1.8h-1.8zM515.5 179.8h1.8v1.8h-1.8zM515.5 181.3h1.8v1.8h-1.8zM515.5 183.1h1.8v1.8h-1.8zM515.5 184.9h1.8v1.8h-1.8zM515.5 186.9h1.8v1.8h-1.8zM515.6 192.7h1.8v1.8h-1.8zM515.6 194.2h1.8v1.8h-1.8zM612.1 197.1h1.8v1.8h-1.8zM612.1 202.1h1.8v1.8h-1.8zM52.3 77.9h1.8v1.8h-1.8zM52.5 223.7h1.8v1.8h-1.8zM52.5 227.1h1.8v1.8h-1.8zM51.6 231.4h1.8v1.8h-1.8zM52.1 240.6h1.8v1.8h-1.8zM72.9 110.7h1.8v1.8h-1.8zM73.8 115.6h1.8v1.8h-1.8zM75 119.8h1.8v1.8h-1.8zM69.1 121.6h1.8v1.8h-1.8zM70.5 119.7h1.8v1.8h-1.8zM69.9 118.2h1.8v1.8h-1.8zM70.7 123.1h1.8v1.8h-1.8zM75.4 116.3h1.8v1.8h-1.8zM75.2 113.9h1.8v1.8h-1.8zM71.8 118.7h1.8v1.8h-1.8zM75 116.2h1.8v1.8h-1.8zM72.1 118.3h1.8v1.8h-1.8zM72.5 110.3h1.8v1.8h-1.8zM74.1 111.5h1.8v1.8h-1.8zM73.1 114.2h1.8v1.8h-1.8zM73.7 116.7h1.8v1.8h-1.8zM76.1 112.3h1.8v1.8h-1.8zM75.5 118.6h1.8v1.8h-1.8zM70.4 117.5h1.8v1.8h-1.8zM74.6 110.2h1.8v1.8h-1.8zM70.4 121.4h1.8v1.8h-1.8zM70.4 115.9h1.8v1.8h-1.8zM75.1 112.8h1.8v1.8h-1.8zM72.9 113.9h1.8v1.8h-1.8zM69.9 119.8h1.8v1.8h-1.8zM69.7 115.9h1.8v1.8h-1.8zM68.1 125.4h1.8v1.8h-1.8zM67.9 125.7h1.8v1.8h-1.8zM68.5 123.8h1.8v1.8h-1.8zM69 124.9h1.8v1.8h-1.8zM69.3 124h1.8v1.8h-1.8zM68 124.6h1.8v1.8h-1.8zM66 120h1.8v1.8h-1.8zM68.7 125.5h1.8v1.8h-1.8zM70 125.2h1.8v1.8h-1.8zM71 124.3h1.8v1.8h-1.8zM70.3 124.3h1.8v1.8h-1.8zM70.7 124.2h1.8v1.8h-1.8zM68.4 124.9h1.8v1.8h-1.8zM66.2 119h1.8v1.8h-1.8z" fill="#1c1c1c"/>
<rect x="50.3" y="34.3" width="1.6" height="313" fill="#7a7a7a"/>
<rect x="50.3" y="33.8" width="638" height="1.5" fill="#505050"/>
<rect x="686.6" y="34" width="1.8" height="313.5" fill="#444"/>
<rect x="50.3" y="345.8" width="638" height="2" fill="#262626"/>
<rect x="120.5" y="39.8" width="80.5" height="51.2" fill="url(#gg)" stroke="#1a1a1a" stroke-width="1.8"/><text x="160.75" y="60.8" text-anchor="middle" font-size="15" fill="#1a1a1a"><tspan font-size="10.5" dy="-5">214</tspan><tspan dy="5">Pb</tspan></text><text x="160.75" y="80.7" text-anchor="middle" font-size="15" fill="#1a1a1a">352 keV</text><line x1="163.8" y1="91" x2="163.8" y2="112" stroke="#000" stroke-width="2"/><path d="M159.6 110L168 110L163.8 118z" fill="#000"/><rect x="222.5" y="51.5" width="95.3" height="51.3" fill="url(#gp)" stroke="#1a1a1a" stroke-width="1.8"/><text x="270.15" y="72.5" text-anchor="middle" font-size="15" fill="#1a1a1a"><tspan font-size="10.5" dy="-5">137</tspan><tspan dy="5">Cs</tspan></text><text x="270.15" y="92.4" text-anchor="middle" font-size="15" fill="#1a1a1a">662 keV</text><line x1="262.3" y1="103" x2="262.3" y2="141" stroke="#000" stroke-width="2"/><path d="M258.1 139L266.5 139L262.3 147z" fill="#000"/><rect x="471.5" y="95.5" width="93" height="50.8" fill="url(#gc)" stroke="#1a1a1a" stroke-width="1.8"/><text x="518" y="116.5" text-anchor="middle" font-size="15" fill="#1a1a1a"><tspan font-size="10.5" dy="-5">40</tspan><tspan dy="5">K</tspan></text><text x="518" y="136.4" text-anchor="middle" font-size="15" fill="#1a1a1a">1,461 keV</text><line x1="516.6" y1="146.5" x2="516.6" y2="164.5" stroke="#000" stroke-width="2"/><path d="M512.4 162.5L520.8 162.5L516.6 170.5z" fill="#000"/><rect x="572" y="112.5" width="93" height="50.8" fill="url(#gg)" stroke="#1a1a1a" stroke-width="1.8"/><text x="618.5" y="133.5" text-anchor="middle" font-size="15" fill="#1a1a1a"><tspan font-size="10.5" dy="-5">214</tspan><tspan dy="5">Bi</tspan></text><text x="618.5" y="153.4" text-anchor="middle" font-size="15" fill="#1a1a1a">1,765 keV</text><line x1="613" y1="163.5" x2="613" y2="186" stroke="#000" stroke-width="2"/><path d="M608.8 184L617.2 184L613 192z" fill="#000"/><rect x="99.8" y="182.5" width="84" height="51.5" fill="url(#gg)" stroke="#1a1a1a" stroke-width="1.8"/><text x="141.8" y="203.5" text-anchor="middle" font-size="15" fill="#1a1a1a"><tspan font-size="10.5" dy="-5">214</tspan><tspan dy="5">Pb</tspan></text><text x="141.8" y="223.4" text-anchor="middle" font-size="15" fill="#1a1a1a">295 keV</text><line x1="147.2" y1="182.5" x2="147.2" y2="147.5" stroke="#000" stroke-width="2"/><path d="M143 149.5L151.4 149.5L147.2 141.5z" fill="#000"/><rect x="212.6" y="205.5" width="84" height="51.5" fill="url(#gg)" stroke="#1a1a1a" stroke-width="1.8"/><text x="254.6" y="226.5" text-anchor="middle" font-size="15" fill="#1a1a1a"><tspan font-size="10.5" dy="-5">214</tspan><tspan dy="5">Bi</tspan></text><text x="254.6" y="246.4" text-anchor="middle" font-size="15" fill="#1a1a1a">610 keV</text><line x1="245.8" y1="205.5" x2="245.8" y2="172.8" stroke="#000" stroke-width="2"/><path d="M241.6 174.8L250 174.8L245.8 166.8z" fill="#000"/>
<text x="9.3" y="10.9" font-size="15.4" fill="#1a1a1a">counts</text>
<g font-size="15.6" fill="#1a1a1a" text-anchor="end">
<text x="47.8" y="43.8">10,000</text>
<text x="47.8" y="117.8">1,000</text>
<text x="47.8" y="198.3">100</text>
<text x="47.8" y="275.6">10</text>
<text x="45" y="351.4">1</text>
</g>
<g font-size="15.4" fill="#1a1a1a" text-anchor="middle">
<text x="50.4" y="366.9">0</text>
<text x="361.5" y="366.6">1,000</text>
<text x="687.5" y="366.9">2,000</text>
<text x="682.6" y="385" font-size="14.2">keV</text>
</g>
</svg>
</body></html>
